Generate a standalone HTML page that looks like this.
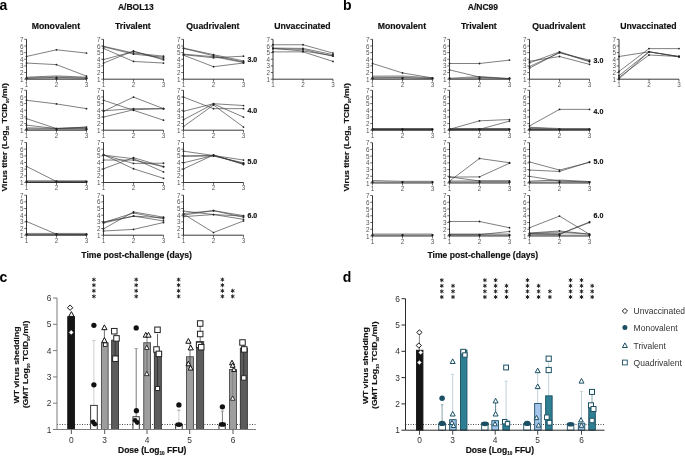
<!DOCTYPE html>
<html><head><meta charset="utf-8"><style>
html,body{margin:0;padding:0;background:#fff;width:685px;height:457px;overflow:hidden}
svg{display:block;will-change:transform}
text{font-family:"Liberation Sans",sans-serif}
</style></head><body>
<svg width="685" height="457" viewBox="0 0 685 457" font-family="Liberation Sans, sans-serif">
<rect width="685" height="457" fill="#fff"/>
<text x="-0.6" y="9.8" font-size="14" font-weight="bold" fill="#000">a</text>
<text x="117.9" y="9.6" font-size="8.5" font-weight="bold" fill="#111" stroke="#111" stroke-width="0.18">A/BOL13</text>
<text x="55.9" y="29.4" font-size="8.7" font-weight="bold" fill="#111" stroke="#111" stroke-width="0.18" text-anchor="middle">Monovalent</text>
<text x="132.9" y="29.4" font-size="8.7" font-weight="bold" fill="#111" stroke="#111" stroke-width="0.18" text-anchor="middle">Trivalent</text>
<text x="212.9" y="29.4" font-size="8.7" font-weight="bold" fill="#111" stroke="#111" stroke-width="0.18" text-anchor="middle">Quadrivalent</text>
<text x="302.4" y="29.4" font-size="8.7" font-weight="bold" fill="#111" stroke="#111" stroke-width="0.18" text-anchor="middle">Unvaccinated</text>
<polygon points="26.5,79.2 26.5,77.2 56.5,75.88 86.5,77.2 86.5,79.2" fill="#c2c2c2"/>
<polyline points="26.5,77.2 56.5,75.88 86.5,77.2" stroke="#333" stroke-width="0.6" fill="none"/>
<circle cx="26.5" cy="78.4" r="1.15" fill="#111"/>
<circle cx="56.5" cy="78.4" r="1.15" fill="#111"/>
<circle cx="86.5" cy="78.4" r="1.15" fill="#111"/>
<polyline points="26.5,56.46 56.5,49.81 86.5,53.07" stroke="#3a3a3a" stroke-width="0.65" fill="none"/>
<circle cx="26.5" cy="56.46" r="0.9" fill="#222"/>
<circle cx="56.5" cy="49.81" r="0.9" fill="#222"/>
<circle cx="86.5" cy="53.07" r="0.9" fill="#222"/>
<polyline points="26.5,63.04 56.5,64.64 86.5,76.14" stroke="#3a3a3a" stroke-width="0.65" fill="none"/>
<circle cx="26.5" cy="63.04" r="0.9" fill="#222"/>
<circle cx="56.5" cy="64.64" r="0.9" fill="#222"/>
<circle cx="86.5" cy="76.14" r="0.9" fill="#222"/>
<polyline points="26.5,78.2 56.5,77.34 86.5,78.2" stroke="#3a3a3a" stroke-width="0.65" fill="none"/>
<circle cx="26.5" cy="78.2" r="0.9" fill="#222"/>
<circle cx="56.5" cy="77.34" r="0.9" fill="#222"/>
<circle cx="86.5" cy="78.2" r="0.9" fill="#222"/>
<path d="M26.5 39.3V79.2H86.5" stroke="#222" stroke-width="0.9" fill="none"/>
<path d="M24.3 79.2H26.5M24.3 72.55H26.5M24.3 65.9H26.5M24.3 59.25H26.5M24.3 52.6H26.5M24.3 45.95H26.5M24.3 39.3H26.5M26.5 79.2V81.6M56.5 79.2V81.6M86.5 79.2V81.6" stroke="#222" stroke-width="0.7" fill="none"/>
<text x="23.5" y="81.75" font-size="6.3" fill="#555" text-anchor="end">1</text>
<text x="23.5" y="75.1" font-size="6.3" fill="#555" text-anchor="end">2</text>
<text x="23.5" y="68.45" font-size="6.3" fill="#555" text-anchor="end">3</text>
<text x="23.5" y="61.8" font-size="6.3" fill="#555" text-anchor="end">4</text>
<text x="23.5" y="55.15" font-size="6.3" fill="#555" text-anchor="end">5</text>
<text x="23.5" y="48.5" font-size="6.3" fill="#555" text-anchor="end">6</text>
<text x="23.5" y="41.85" font-size="6.3" fill="#555" text-anchor="end">7</text>
<text x="26.5" y="86.8" font-size="6.3" fill="#555" text-anchor="middle">1</text>
<text x="56.5" y="86.8" font-size="6.3" fill="#555" text-anchor="middle">2</text>
<text x="86.5" y="86.8" font-size="6.3" fill="#555" text-anchor="middle">3</text>
<polyline points="103.5,46.28 133.5,53.07 163.5,56.19" stroke="#3a3a3a" stroke-width="0.65" fill="none"/>
<circle cx="103.5" cy="46.28" r="0.9" fill="#222"/>
<circle cx="133.5" cy="53.07" r="0.9" fill="#222"/>
<circle cx="163.5" cy="56.19" r="0.9" fill="#222"/>
<polyline points="103.5,46.81 133.5,54.13 163.5,57.25" stroke="#3a3a3a" stroke-width="0.65" fill="none"/>
<circle cx="103.5" cy="46.81" r="0.9" fill="#222"/>
<circle cx="133.5" cy="54.13" r="0.9" fill="#222"/>
<circle cx="163.5" cy="57.25" r="0.9" fill="#222"/>
<polyline points="103.5,48.41 133.5,61.44 163.5,63.04" stroke="#3a3a3a" stroke-width="0.65" fill="none"/>
<circle cx="103.5" cy="48.41" r="0.9" fill="#222"/>
<circle cx="133.5" cy="61.44" r="0.9" fill="#222"/>
<circle cx="163.5" cy="63.04" r="0.9" fill="#222"/>
<polyline points="103.5,59.58 133.5,51.54 163.5,58.85" stroke="#3a3a3a" stroke-width="0.65" fill="none"/>
<circle cx="103.5" cy="59.58" r="0.9" fill="#222"/>
<circle cx="133.5" cy="51.54" r="0.9" fill="#222"/>
<circle cx="163.5" cy="58.85" r="0.9" fill="#222"/>
<polyline points="103.5,63.04 133.5,51 163.5,59.91" stroke="#3a3a3a" stroke-width="0.65" fill="none"/>
<circle cx="103.5" cy="63.04" r="0.9" fill="#222"/>
<circle cx="133.5" cy="51" r="0.9" fill="#222"/>
<circle cx="163.5" cy="59.91" r="0.9" fill="#222"/>
<path d="M103.5 39.3V79.2H163.5" stroke="#222" stroke-width="0.9" fill="none"/>
<path d="M101.3 79.2H103.5M101.3 72.55H103.5M101.3 65.9H103.5M101.3 59.25H103.5M101.3 52.6H103.5M101.3 45.95H103.5M101.3 39.3H103.5M103.5 79.2V81.6M133.5 79.2V81.6M163.5 79.2V81.6" stroke="#222" stroke-width="0.7" fill="none"/>
<text x="100.5" y="81.75" font-size="6.3" fill="#555" text-anchor="end">1</text>
<text x="100.5" y="75.1" font-size="6.3" fill="#555" text-anchor="end">2</text>
<text x="100.5" y="68.45" font-size="6.3" fill="#555" text-anchor="end">3</text>
<text x="100.5" y="61.8" font-size="6.3" fill="#555" text-anchor="end">4</text>
<text x="100.5" y="55.15" font-size="6.3" fill="#555" text-anchor="end">5</text>
<text x="100.5" y="48.5" font-size="6.3" fill="#555" text-anchor="end">6</text>
<text x="100.5" y="41.85" font-size="6.3" fill="#555" text-anchor="end">7</text>
<text x="103.5" y="86.8" font-size="6.3" fill="#555" text-anchor="middle">1</text>
<text x="133.5" y="86.8" font-size="6.3" fill="#555" text-anchor="middle">2</text>
<text x="163.5" y="86.8" font-size="6.3" fill="#555" text-anchor="middle">3</text>
<polyline points="183.5,48.08 213.5,54.66 243.5,60.91" stroke="#3a3a3a" stroke-width="0.65" fill="none"/>
<circle cx="183.5" cy="48.08" r="0.9" fill="#222"/>
<circle cx="213.5" cy="54.66" r="0.9" fill="#222"/>
<circle cx="243.5" cy="60.91" r="0.9" fill="#222"/>
<polyline points="183.5,48.41 213.5,55.73 243.5,61.98" stroke="#3a3a3a" stroke-width="0.65" fill="none"/>
<circle cx="183.5" cy="48.41" r="0.9" fill="#222"/>
<circle cx="213.5" cy="55.73" r="0.9" fill="#222"/>
<circle cx="243.5" cy="61.98" r="0.9" fill="#222"/>
<polyline points="183.5,54.66 213.5,57.79 243.5,56.19" stroke="#3a3a3a" stroke-width="0.65" fill="none"/>
<circle cx="183.5" cy="54.66" r="0.9" fill="#222"/>
<circle cx="213.5" cy="57.79" r="0.9" fill="#222"/>
<circle cx="243.5" cy="56.19" r="0.9" fill="#222"/>
<polyline points="183.5,55.19 213.5,66.7 243.5,63.04" stroke="#3a3a3a" stroke-width="0.65" fill="none"/>
<circle cx="183.5" cy="55.19" r="0.9" fill="#222"/>
<circle cx="213.5" cy="66.7" r="0.9" fill="#222"/>
<circle cx="243.5" cy="63.04" r="0.9" fill="#222"/>
<polyline points="183.5,54.13 213.5,56.72 243.5,62.51" stroke="#3a3a3a" stroke-width="0.65" fill="none"/>
<circle cx="183.5" cy="54.13" r="0.9" fill="#222"/>
<circle cx="213.5" cy="56.72" r="0.9" fill="#222"/>
<circle cx="243.5" cy="62.51" r="0.9" fill="#222"/>
<path d="M183.5 39.3V79.2H243.5" stroke="#222" stroke-width="0.9" fill="none"/>
<path d="M181.3 79.2H183.5M181.3 72.55H183.5M181.3 65.9H183.5M181.3 59.25H183.5M181.3 52.6H183.5M181.3 45.95H183.5M181.3 39.3H183.5M183.5 79.2V81.6M213.5 79.2V81.6M243.5 79.2V81.6" stroke="#222" stroke-width="0.7" fill="none"/>
<text x="180.5" y="81.75" font-size="6.3" fill="#555" text-anchor="end">1</text>
<text x="180.5" y="75.1" font-size="6.3" fill="#555" text-anchor="end">2</text>
<text x="180.5" y="68.45" font-size="6.3" fill="#555" text-anchor="end">3</text>
<text x="180.5" y="61.8" font-size="6.3" fill="#555" text-anchor="end">4</text>
<text x="180.5" y="55.15" font-size="6.3" fill="#555" text-anchor="end">5</text>
<text x="180.5" y="48.5" font-size="6.3" fill="#555" text-anchor="end">6</text>
<text x="180.5" y="41.85" font-size="6.3" fill="#555" text-anchor="end">7</text>
<text x="183.5" y="86.8" font-size="6.3" fill="#555" text-anchor="middle">1</text>
<text x="213.5" y="86.8" font-size="6.3" fill="#555" text-anchor="middle">2</text>
<text x="243.5" y="86.8" font-size="6.3" fill="#555" text-anchor="middle">3</text>
<polyline points="273,44.75 303,44.75 333,53.07" stroke="#3a3a3a" stroke-width="0.65" fill="none"/>
<circle cx="273" cy="44.75" r="0.9" fill="#222"/>
<circle cx="303" cy="44.75" r="0.9" fill="#222"/>
<circle cx="333" cy="53.07" r="0.9" fill="#222"/>
<polyline points="273,48.08 303,48.41 333,54.66" stroke="#3a3a3a" stroke-width="0.65" fill="none"/>
<circle cx="273" cy="48.08" r="0.9" fill="#222"/>
<circle cx="303" cy="48.41" r="0.9" fill="#222"/>
<circle cx="333" cy="54.66" r="0.9" fill="#222"/>
<polyline points="273,48.68 303,49.41 333,56.19" stroke="#3a3a3a" stroke-width="0.65" fill="none"/>
<circle cx="273" cy="48.68" r="0.9" fill="#222"/>
<circle cx="303" cy="49.41" r="0.9" fill="#222"/>
<circle cx="333" cy="56.19" r="0.9" fill="#222"/>
<polyline points="273,51.87 303,51.87 333,61.44" stroke="#3a3a3a" stroke-width="0.65" fill="none"/>
<circle cx="273" cy="51.87" r="0.9" fill="#222"/>
<circle cx="303" cy="51.87" r="0.9" fill="#222"/>
<circle cx="333" cy="61.44" r="0.9" fill="#222"/>
<polyline points="273,48.41 303,51 333,55.73" stroke="#3a3a3a" stroke-width="0.65" fill="none"/>
<circle cx="273" cy="48.41" r="0.9" fill="#222"/>
<circle cx="303" cy="51" r="0.9" fill="#222"/>
<circle cx="333" cy="55.73" r="0.9" fill="#222"/>
<path d="M273 39.3V79.2H333" stroke="#222" stroke-width="0.9" fill="none"/>
<path d="M270.8 79.2H273M270.8 72.55H273M270.8 65.9H273M270.8 59.25H273M270.8 52.6H273M270.8 45.95H273M270.8 39.3H273M273 79.2V81.6M303 79.2V81.6M333 79.2V81.6" stroke="#222" stroke-width="0.7" fill="none"/>
<text x="270" y="81.75" font-size="6.3" fill="#555" text-anchor="end">1</text>
<text x="270" y="75.1" font-size="6.3" fill="#555" text-anchor="end">2</text>
<text x="270" y="68.45" font-size="6.3" fill="#555" text-anchor="end">3</text>
<text x="270" y="61.8" font-size="6.3" fill="#555" text-anchor="end">4</text>
<text x="270" y="55.15" font-size="6.3" fill="#555" text-anchor="end">5</text>
<text x="270" y="48.5" font-size="6.3" fill="#555" text-anchor="end">6</text>
<text x="270" y="41.85" font-size="6.3" fill="#555" text-anchor="end">7</text>
<text x="273" y="86.8" font-size="6.3" fill="#555" text-anchor="middle">1</text>
<text x="303" y="86.8" font-size="6.3" fill="#555" text-anchor="middle">2</text>
<text x="333" y="86.8" font-size="6.3" fill="#555" text-anchor="middle">3</text>
<text x="247.5" y="62.4" font-size="7" font-weight="bold" fill="#111" stroke="#111" stroke-width="0.18">3.0</text>
<polygon points="26.5,130.2 26.5,127.87 56.5,128.34 86.5,127.21 86.5,130.2" fill="#b4b4b4"/>
<polyline points="26.5,127.87 56.5,128.34 86.5,127.21" stroke="#333" stroke-width="0.6" fill="none"/>
<circle cx="26.5" cy="129.4" r="1.15" fill="#111"/>
<circle cx="56.5" cy="129.4" r="1.15" fill="#111"/>
<circle cx="86.5" cy="129.4" r="1.15" fill="#111"/>
<polyline points="26.5,100.27 56.5,103.93 86.5,108.65" stroke="#3a3a3a" stroke-width="0.65" fill="none"/>
<circle cx="26.5" cy="100.27" r="0.9" fill="#222"/>
<circle cx="56.5" cy="103.93" r="0.9" fill="#222"/>
<circle cx="86.5" cy="108.65" r="0.9" fill="#222"/>
<polyline points="26.5,118.63 56.5,128.6 86.5,128.6" stroke="#3a3a3a" stroke-width="0.65" fill="none"/>
<circle cx="26.5" cy="118.63" r="0.9" fill="#222"/>
<circle cx="56.5" cy="128.6" r="0.9" fill="#222"/>
<circle cx="86.5" cy="128.6" r="0.9" fill="#222"/>
<polyline points="26.5,125.15 56.5,128.6 86.5,127.07" stroke="#3a3a3a" stroke-width="0.65" fill="none"/>
<circle cx="26.5" cy="125.15" r="0.9" fill="#222"/>
<circle cx="56.5" cy="128.6" r="0.9" fill="#222"/>
<circle cx="86.5" cy="127.07" r="0.9" fill="#222"/>
<path d="M26.5 90.3V130.2H86.5" stroke="#222" stroke-width="0.9" fill="none"/>
<path d="M24.3 130.2H26.5M24.3 123.55H26.5M24.3 116.9H26.5M24.3 110.25H26.5M24.3 103.6H26.5M24.3 96.95H26.5M24.3 90.3H26.5M26.5 130.2V132.6M56.5 130.2V132.6M86.5 130.2V132.6" stroke="#222" stroke-width="0.7" fill="none"/>
<text x="23.5" y="132.75" font-size="6.3" fill="#555" text-anchor="end">1</text>
<text x="23.5" y="126.1" font-size="6.3" fill="#555" text-anchor="end">2</text>
<text x="23.5" y="119.45" font-size="6.3" fill="#555" text-anchor="end">3</text>
<text x="23.5" y="112.8" font-size="6.3" fill="#555" text-anchor="end">4</text>
<text x="23.5" y="106.15" font-size="6.3" fill="#555" text-anchor="end">5</text>
<text x="23.5" y="99.5" font-size="6.3" fill="#555" text-anchor="end">6</text>
<text x="23.5" y="92.85" font-size="6.3" fill="#555" text-anchor="end">7</text>
<text x="26.5" y="137.8" font-size="6.3" fill="#555" text-anchor="middle">1</text>
<text x="56.5" y="137.8" font-size="6.3" fill="#555" text-anchor="middle">2</text>
<text x="86.5" y="137.8" font-size="6.3" fill="#555" text-anchor="middle">3</text>
<polyline points="103.5,100.27 133.5,110.25 163.5,120.22" stroke="#3a3a3a" stroke-width="0.65" fill="none"/>
<circle cx="103.5" cy="100.27" r="0.9" fill="#222"/>
<circle cx="133.5" cy="110.25" r="0.9" fill="#222"/>
<circle cx="163.5" cy="120.22" r="0.9" fill="#222"/>
<polyline points="103.5,111.31 133.5,97.08 163.5,108.65" stroke="#3a3a3a" stroke-width="0.65" fill="none"/>
<circle cx="103.5" cy="111.31" r="0.9" fill="#222"/>
<circle cx="133.5" cy="97.08" r="0.9" fill="#222"/>
<circle cx="163.5" cy="108.65" r="0.9" fill="#222"/>
<polyline points="103.5,110.78 133.5,108.65 163.5,108.65" stroke="#3a3a3a" stroke-width="0.65" fill="none"/>
<circle cx="103.5" cy="110.78" r="0.9" fill="#222"/>
<circle cx="133.5" cy="108.65" r="0.9" fill="#222"/>
<circle cx="163.5" cy="108.65" r="0.9" fill="#222"/>
<polyline points="103.5,117.1 133.5,109.72 163.5,108.65" stroke="#3a3a3a" stroke-width="0.65" fill="none"/>
<circle cx="103.5" cy="117.1" r="0.9" fill="#222"/>
<circle cx="133.5" cy="109.72" r="0.9" fill="#222"/>
<circle cx="163.5" cy="108.65" r="0.9" fill="#222"/>
<path d="M103.5 90.3V130.2H163.5" stroke="#222" stroke-width="0.9" fill="none"/>
<path d="M101.3 130.2H103.5M101.3 123.55H103.5M101.3 116.9H103.5M101.3 110.25H103.5M101.3 103.6H103.5M101.3 96.95H103.5M101.3 90.3H103.5M103.5 130.2V132.6M133.5 130.2V132.6M163.5 130.2V132.6" stroke="#222" stroke-width="0.7" fill="none"/>
<text x="100.5" y="132.75" font-size="6.3" fill="#555" text-anchor="end">1</text>
<text x="100.5" y="126.1" font-size="6.3" fill="#555" text-anchor="end">2</text>
<text x="100.5" y="119.45" font-size="6.3" fill="#555" text-anchor="end">3</text>
<text x="100.5" y="112.8" font-size="6.3" fill="#555" text-anchor="end">4</text>
<text x="100.5" y="106.15" font-size="6.3" fill="#555" text-anchor="end">5</text>
<text x="100.5" y="99.5" font-size="6.3" fill="#555" text-anchor="end">6</text>
<text x="100.5" y="92.85" font-size="6.3" fill="#555" text-anchor="end">7</text>
<text x="103.5" y="137.8" font-size="6.3" fill="#555" text-anchor="middle">1</text>
<text x="133.5" y="137.8" font-size="6.3" fill="#555" text-anchor="middle">2</text>
<text x="163.5" y="137.8" font-size="6.3" fill="#555" text-anchor="middle">3</text>
<polyline points="183.5,97.08 213.5,108.65 243.5,108.65" stroke="#3a3a3a" stroke-width="0.65" fill="none"/>
<circle cx="183.5" cy="97.08" r="0.9" fill="#222"/>
<circle cx="213.5" cy="108.65" r="0.9" fill="#222"/>
<circle cx="243.5" cy="108.65" r="0.9" fill="#222"/>
<polyline points="183.5,111.31 213.5,103.73 243.5,105.53" stroke="#3a3a3a" stroke-width="0.65" fill="none"/>
<circle cx="183.5" cy="111.31" r="0.9" fill="#222"/>
<circle cx="213.5" cy="103.73" r="0.9" fill="#222"/>
<circle cx="243.5" cy="105.53" r="0.9" fill="#222"/>
<polyline points="183.5,119.69 213.5,103.93 243.5,117.1" stroke="#3a3a3a" stroke-width="0.65" fill="none"/>
<circle cx="183.5" cy="119.69" r="0.9" fill="#222"/>
<circle cx="213.5" cy="103.93" r="0.9" fill="#222"/>
<circle cx="243.5" cy="117.1" r="0.9" fill="#222"/>
<polyline points="183.5,126.54 213.5,105 243.5,127.07" stroke="#3a3a3a" stroke-width="0.65" fill="none"/>
<circle cx="183.5" cy="126.54" r="0.9" fill="#222"/>
<circle cx="213.5" cy="105" r="0.9" fill="#222"/>
<circle cx="243.5" cy="127.07" r="0.9" fill="#222"/>
<path d="M183.5 90.3V130.2H243.5" stroke="#222" stroke-width="0.9" fill="none"/>
<path d="M181.3 130.2H183.5M181.3 123.55H183.5M181.3 116.9H183.5M181.3 110.25H183.5M181.3 103.6H183.5M181.3 96.95H183.5M181.3 90.3H183.5M183.5 130.2V132.6M213.5 130.2V132.6M243.5 130.2V132.6" stroke="#222" stroke-width="0.7" fill="none"/>
<text x="180.5" y="132.75" font-size="6.3" fill="#555" text-anchor="end">1</text>
<text x="180.5" y="126.1" font-size="6.3" fill="#555" text-anchor="end">2</text>
<text x="180.5" y="119.45" font-size="6.3" fill="#555" text-anchor="end">3</text>
<text x="180.5" y="112.8" font-size="6.3" fill="#555" text-anchor="end">4</text>
<text x="180.5" y="106.15" font-size="6.3" fill="#555" text-anchor="end">5</text>
<text x="180.5" y="99.5" font-size="6.3" fill="#555" text-anchor="end">6</text>
<text x="180.5" y="92.85" font-size="6.3" fill="#555" text-anchor="end">7</text>
<text x="183.5" y="137.8" font-size="6.3" fill="#555" text-anchor="middle">1</text>
<text x="213.5" y="137.8" font-size="6.3" fill="#555" text-anchor="middle">2</text>
<text x="243.5" y="137.8" font-size="6.3" fill="#555" text-anchor="middle">3</text>
<text x="247.5" y="113.3" font-size="7" font-weight="bold" fill="#111" stroke="#111" stroke-width="0.18">4.0</text>
<polygon points="26.5,182.5 26.5,180.7 56.5,180.7 86.5,180.7 86.5,182.5" fill="#7a7a7a"/>
<polyline points="26.5,180.7 56.5,180.7 86.5,180.7" stroke="#666" stroke-width="0.6" fill="none"/>
<circle cx="26.5" cy="181.7" r="1.15" fill="#111"/>
<circle cx="56.5" cy="181.7" r="1.15" fill="#111"/>
<circle cx="86.5" cy="181.7" r="1.15" fill="#111"/>
<polyline points="26.5,166.43 56.5,181.5 86.5,181.83" stroke="#3a3a3a" stroke-width="0.65" fill="none"/>
<circle cx="26.5" cy="166.43" r="0.9" fill="#222"/>
<circle cx="56.5" cy="181.5" r="0.9" fill="#222"/>
<circle cx="86.5" cy="181.83" r="0.9" fill="#222"/>
<path d="M26.5 142.5V182.5H86.5" stroke="#222" stroke-width="0.9" fill="none"/>
<path d="M24.3 182.5H26.5M24.3 175.83H26.5M24.3 169.17H26.5M24.3 162.5H26.5M24.3 155.83H26.5M24.3 149.17H26.5M24.3 142.5H26.5M26.5 182.5V184.9M56.5 182.5V184.9M86.5 182.5V184.9" stroke="#222" stroke-width="0.7" fill="none"/>
<text x="23.5" y="185.05" font-size="6.3" fill="#555" text-anchor="end">1</text>
<text x="23.5" y="178.38" font-size="6.3" fill="#555" text-anchor="end">2</text>
<text x="23.5" y="171.72" font-size="6.3" fill="#555" text-anchor="end">3</text>
<text x="23.5" y="165.05" font-size="6.3" fill="#555" text-anchor="end">4</text>
<text x="23.5" y="158.38" font-size="6.3" fill="#555" text-anchor="end">5</text>
<text x="23.5" y="151.72" font-size="6.3" fill="#555" text-anchor="end">6</text>
<text x="23.5" y="145.05" font-size="6.3" fill="#555" text-anchor="end">7</text>
<text x="26.5" y="190.1" font-size="6.3" fill="#555" text-anchor="middle">1</text>
<text x="56.5" y="190.1" font-size="6.3" fill="#555" text-anchor="middle">2</text>
<text x="86.5" y="190.1" font-size="6.3" fill="#555" text-anchor="middle">3</text>
<polyline points="103.5,154.97 133.5,163.43 163.5,163.23" stroke="#3a3a3a" stroke-width="0.65" fill="none"/>
<circle cx="103.5" cy="154.97" r="0.9" fill="#222"/>
<circle cx="133.5" cy="163.43" r="0.9" fill="#222"/>
<circle cx="163.5" cy="163.23" r="0.9" fill="#222"/>
<polyline points="103.5,154.77 133.5,168.77 163.5,178.3" stroke="#3a3a3a" stroke-width="0.65" fill="none"/>
<circle cx="103.5" cy="154.77" r="0.9" fill="#222"/>
<circle cx="133.5" cy="168.77" r="0.9" fill="#222"/>
<circle cx="163.5" cy="178.3" r="0.9" fill="#222"/>
<polyline points="103.5,155.17 133.5,158.7 163.5,171.9" stroke="#3a3a3a" stroke-width="0.65" fill="none"/>
<circle cx="103.5" cy="155.17" r="0.9" fill="#222"/>
<circle cx="133.5" cy="158.7" r="0.9" fill="#222"/>
<circle cx="163.5" cy="171.9" r="0.9" fill="#222"/>
<polyline points="103.5,160.03 133.5,160.03 163.5,166.63" stroke="#3a3a3a" stroke-width="0.65" fill="none"/>
<circle cx="103.5" cy="160.03" r="0.9" fill="#222"/>
<circle cx="133.5" cy="160.03" r="0.9" fill="#222"/>
<circle cx="163.5" cy="166.63" r="0.9" fill="#222"/>
<polyline points="103.5,168.77 133.5,157.63 163.5,166.63" stroke="#3a3a3a" stroke-width="0.65" fill="none"/>
<circle cx="103.5" cy="168.77" r="0.9" fill="#222"/>
<circle cx="133.5" cy="157.63" r="0.9" fill="#222"/>
<circle cx="163.5" cy="166.63" r="0.9" fill="#222"/>
<path d="M103.5 142.5V182.5H163.5" stroke="#222" stroke-width="0.9" fill="none"/>
<path d="M101.3 182.5H103.5M101.3 175.83H103.5M101.3 169.17H103.5M101.3 162.5H103.5M101.3 155.83H103.5M101.3 149.17H103.5M101.3 142.5H103.5M103.5 182.5V184.9M133.5 182.5V184.9M163.5 182.5V184.9" stroke="#222" stroke-width="0.7" fill="none"/>
<text x="100.5" y="185.05" font-size="6.3" fill="#555" text-anchor="end">1</text>
<text x="100.5" y="178.38" font-size="6.3" fill="#555" text-anchor="end">2</text>
<text x="100.5" y="171.72" font-size="6.3" fill="#555" text-anchor="end">3</text>
<text x="100.5" y="165.05" font-size="6.3" fill="#555" text-anchor="end">4</text>
<text x="100.5" y="158.38" font-size="6.3" fill="#555" text-anchor="end">5</text>
<text x="100.5" y="151.72" font-size="6.3" fill="#555" text-anchor="end">6</text>
<text x="100.5" y="145.05" font-size="6.3" fill="#555" text-anchor="end">7</text>
<text x="103.5" y="190.1" font-size="6.3" fill="#555" text-anchor="middle">1</text>
<text x="133.5" y="190.1" font-size="6.3" fill="#555" text-anchor="middle">2</text>
<text x="163.5" y="190.1" font-size="6.3" fill="#555" text-anchor="middle">3</text>
<polyline points="183.5,151.17 213.5,155.5 243.5,160.03" stroke="#3a3a3a" stroke-width="0.65" fill="none"/>
<circle cx="183.5" cy="151.17" r="0.9" fill="#222"/>
<circle cx="213.5" cy="155.5" r="0.9" fill="#222"/>
<circle cx="243.5" cy="160.03" r="0.9" fill="#222"/>
<polyline points="183.5,156.1 213.5,156.03 243.5,162.9" stroke="#3a3a3a" stroke-width="0.65" fill="none"/>
<circle cx="183.5" cy="156.1" r="0.9" fill="#222"/>
<circle cx="213.5" cy="156.03" r="0.9" fill="#222"/>
<circle cx="243.5" cy="162.9" r="0.9" fill="#222"/>
<polyline points="183.5,162.77 213.5,155.5 243.5,163.97" stroke="#3a3a3a" stroke-width="0.65" fill="none"/>
<circle cx="183.5" cy="162.77" r="0.9" fill="#222"/>
<circle cx="213.5" cy="155.5" r="0.9" fill="#222"/>
<circle cx="243.5" cy="163.97" r="0.9" fill="#222"/>
<polyline points="183.5,168.9 213.5,154.97 243.5,164.5" stroke="#3a3a3a" stroke-width="0.65" fill="none"/>
<circle cx="183.5" cy="168.9" r="0.9" fill="#222"/>
<circle cx="213.5" cy="154.97" r="0.9" fill="#222"/>
<circle cx="243.5" cy="164.5" r="0.9" fill="#222"/>
<polyline points="183.5,156.1 213.5,155.43 243.5,163.43" stroke="#3a3a3a" stroke-width="0.65" fill="none"/>
<circle cx="183.5" cy="156.1" r="0.9" fill="#222"/>
<circle cx="213.5" cy="155.43" r="0.9" fill="#222"/>
<circle cx="243.5" cy="163.43" r="0.9" fill="#222"/>
<path d="M183.5 142.5V182.5H243.5" stroke="#222" stroke-width="0.9" fill="none"/>
<path d="M181.3 182.5H183.5M181.3 175.83H183.5M181.3 169.17H183.5M181.3 162.5H183.5M181.3 155.83H183.5M181.3 149.17H183.5M181.3 142.5H183.5M183.5 182.5V184.9M213.5 182.5V184.9M243.5 182.5V184.9" stroke="#222" stroke-width="0.7" fill="none"/>
<text x="180.5" y="185.05" font-size="6.3" fill="#555" text-anchor="end">1</text>
<text x="180.5" y="178.38" font-size="6.3" fill="#555" text-anchor="end">2</text>
<text x="180.5" y="171.72" font-size="6.3" fill="#555" text-anchor="end">3</text>
<text x="180.5" y="165.05" font-size="6.3" fill="#555" text-anchor="end">4</text>
<text x="180.5" y="158.38" font-size="6.3" fill="#555" text-anchor="end">5</text>
<text x="180.5" y="151.72" font-size="6.3" fill="#555" text-anchor="end">6</text>
<text x="180.5" y="145.05" font-size="6.3" fill="#555" text-anchor="end">7</text>
<text x="183.5" y="190.1" font-size="6.3" fill="#555" text-anchor="middle">1</text>
<text x="213.5" y="190.1" font-size="6.3" fill="#555" text-anchor="middle">2</text>
<text x="243.5" y="190.1" font-size="6.3" fill="#555" text-anchor="middle">3</text>
<text x="247.5" y="163.9" font-size="7" font-weight="bold" fill="#111" stroke="#111" stroke-width="0.18">5.0</text>
<polygon points="26.5,235.2 26.5,233.4 56.5,233.4 86.5,233.4 86.5,235.2" fill="#7a7a7a"/>
<polyline points="26.5,233.4 56.5,233.4 86.5,233.4" stroke="#666" stroke-width="0.6" fill="none"/>
<circle cx="26.5" cy="234.4" r="1.15" fill="#111"/>
<circle cx="56.5" cy="234.4" r="1.15" fill="#111"/>
<circle cx="86.5" cy="234.4" r="1.15" fill="#111"/>
<polyline points="26.5,221.47 56.5,234.2 86.5,234.53" stroke="#3a3a3a" stroke-width="0.65" fill="none"/>
<circle cx="26.5" cy="221.47" r="0.9" fill="#222"/>
<circle cx="56.5" cy="234.2" r="0.9" fill="#222"/>
<circle cx="86.5" cy="234.53" r="0.9" fill="#222"/>
<path d="M26.5 195.2V235.2H86.5" stroke="#222" stroke-width="0.9" fill="none"/>
<path d="M24.3 235.2H26.5M24.3 228.53H26.5M24.3 221.87H26.5M24.3 215.2H26.5M24.3 208.53H26.5M24.3 201.87H26.5M24.3 195.2H26.5M26.5 235.2V237.6M56.5 235.2V237.6M86.5 235.2V237.6" stroke="#222" stroke-width="0.7" fill="none"/>
<text x="23.5" y="237.75" font-size="6.3" fill="#555" text-anchor="end">1</text>
<text x="23.5" y="231.08" font-size="6.3" fill="#555" text-anchor="end">2</text>
<text x="23.5" y="224.42" font-size="6.3" fill="#555" text-anchor="end">3</text>
<text x="23.5" y="217.75" font-size="6.3" fill="#555" text-anchor="end">4</text>
<text x="23.5" y="211.08" font-size="6.3" fill="#555" text-anchor="end">5</text>
<text x="23.5" y="204.42" font-size="6.3" fill="#555" text-anchor="end">6</text>
<text x="23.5" y="197.75" font-size="6.3" fill="#555" text-anchor="end">7</text>
<text x="26.5" y="242.8" font-size="6.3" fill="#555" text-anchor="middle">1</text>
<text x="56.5" y="242.8" font-size="6.3" fill="#555" text-anchor="middle">2</text>
<text x="86.5" y="242.8" font-size="6.3" fill="#555" text-anchor="middle">3</text>
<polyline points="103.5,222 133.5,216.13 163.5,217.73" stroke="#3a3a3a" stroke-width="0.65" fill="none"/>
<circle cx="103.5" cy="222" r="0.9" fill="#222"/>
<circle cx="133.5" cy="216.13" r="0.9" fill="#222"/>
<circle cx="163.5" cy="217.73" r="0.9" fill="#222"/>
<polyline points="103.5,223 133.5,216.13 163.5,220.93" stroke="#3a3a3a" stroke-width="0.65" fill="none"/>
<circle cx="103.5" cy="223" r="0.9" fill="#222"/>
<circle cx="133.5" cy="216.13" r="0.9" fill="#222"/>
<circle cx="163.5" cy="220.93" r="0.9" fill="#222"/>
<polyline points="103.5,228.87 133.5,211.93 163.5,217.2" stroke="#3a3a3a" stroke-width="0.65" fill="none"/>
<circle cx="103.5" cy="228.87" r="0.9" fill="#222"/>
<circle cx="133.5" cy="211.93" r="0.9" fill="#222"/>
<circle cx="163.5" cy="217.2" r="0.9" fill="#222"/>
<polyline points="103.5,231 133.5,229.4 163.5,222.53" stroke="#3a3a3a" stroke-width="0.65" fill="none"/>
<circle cx="103.5" cy="231" r="0.9" fill="#222"/>
<circle cx="133.5" cy="229.4" r="0.9" fill="#222"/>
<circle cx="163.5" cy="222.53" r="0.9" fill="#222"/>
<polyline points="103.5,222.53 133.5,213 163.5,218.8" stroke="#3a3a3a" stroke-width="0.65" fill="none"/>
<circle cx="103.5" cy="222.53" r="0.9" fill="#222"/>
<circle cx="133.5" cy="213" r="0.9" fill="#222"/>
<circle cx="163.5" cy="218.8" r="0.9" fill="#222"/>
<path d="M103.5 195.2V235.2H163.5" stroke="#222" stroke-width="0.9" fill="none"/>
<path d="M101.3 235.2H103.5M101.3 228.53H103.5M101.3 221.87H103.5M101.3 215.2H103.5M101.3 208.53H103.5M101.3 201.87H103.5M101.3 195.2H103.5M103.5 235.2V237.6M133.5 235.2V237.6M163.5 235.2V237.6" stroke="#222" stroke-width="0.7" fill="none"/>
<text x="100.5" y="237.75" font-size="6.3" fill="#555" text-anchor="end">1</text>
<text x="100.5" y="231.08" font-size="6.3" fill="#555" text-anchor="end">2</text>
<text x="100.5" y="224.42" font-size="6.3" fill="#555" text-anchor="end">3</text>
<text x="100.5" y="217.75" font-size="6.3" fill="#555" text-anchor="end">4</text>
<text x="100.5" y="211.08" font-size="6.3" fill="#555" text-anchor="end">5</text>
<text x="100.5" y="204.42" font-size="6.3" fill="#555" text-anchor="end">6</text>
<text x="100.5" y="197.75" font-size="6.3" fill="#555" text-anchor="end">7</text>
<text x="103.5" y="242.8" font-size="6.3" fill="#555" text-anchor="middle">1</text>
<text x="133.5" y="242.8" font-size="6.3" fill="#555" text-anchor="middle">2</text>
<text x="163.5" y="242.8" font-size="6.3" fill="#555" text-anchor="middle">3</text>
<polyline points="183.5,211.07 213.5,214.53 243.5,216.13" stroke="#3a3a3a" stroke-width="0.65" fill="none"/>
<circle cx="183.5" cy="211.07" r="0.9" fill="#222"/>
<circle cx="213.5" cy="214.53" r="0.9" fill="#222"/>
<circle cx="243.5" cy="216.13" r="0.9" fill="#222"/>
<polyline points="183.5,213.53 213.5,210.67 243.5,215.6" stroke="#3a3a3a" stroke-width="0.65" fill="none"/>
<circle cx="183.5" cy="213.53" r="0.9" fill="#222"/>
<circle cx="213.5" cy="210.67" r="0.9" fill="#222"/>
<circle cx="243.5" cy="215.6" r="0.9" fill="#222"/>
<polyline points="183.5,215.07 213.5,210.67 243.5,217.2" stroke="#3a3a3a" stroke-width="0.65" fill="none"/>
<circle cx="183.5" cy="215.07" r="0.9" fill="#222"/>
<circle cx="213.5" cy="210.67" r="0.9" fill="#222"/>
<circle cx="243.5" cy="217.2" r="0.9" fill="#222"/>
<polyline points="183.5,216.67 213.5,214.53 243.5,219.33" stroke="#3a3a3a" stroke-width="0.65" fill="none"/>
<circle cx="183.5" cy="216.67" r="0.9" fill="#222"/>
<circle cx="213.5" cy="214.53" r="0.9" fill="#222"/>
<circle cx="243.5" cy="219.33" r="0.9" fill="#222"/>
<polyline points="183.5,214.07 213.5,232.53 243.5,220.93" stroke="#3a3a3a" stroke-width="0.65" fill="none"/>
<circle cx="183.5" cy="214.07" r="0.9" fill="#222"/>
<circle cx="213.5" cy="232.53" r="0.9" fill="#222"/>
<circle cx="243.5" cy="220.93" r="0.9" fill="#222"/>
<path d="M183.5 195.2V235.2H243.5" stroke="#222" stroke-width="0.9" fill="none"/>
<path d="M181.3 235.2H183.5M181.3 228.53H183.5M181.3 221.87H183.5M181.3 215.2H183.5M181.3 208.53H183.5M181.3 201.87H183.5M181.3 195.2H183.5M183.5 235.2V237.6M213.5 235.2V237.6M243.5 235.2V237.6" stroke="#222" stroke-width="0.7" fill="none"/>
<text x="180.5" y="237.75" font-size="6.3" fill="#555" text-anchor="end">1</text>
<text x="180.5" y="231.08" font-size="6.3" fill="#555" text-anchor="end">2</text>
<text x="180.5" y="224.42" font-size="6.3" fill="#555" text-anchor="end">3</text>
<text x="180.5" y="217.75" font-size="6.3" fill="#555" text-anchor="end">4</text>
<text x="180.5" y="211.08" font-size="6.3" fill="#555" text-anchor="end">5</text>
<text x="180.5" y="204.42" font-size="6.3" fill="#555" text-anchor="end">6</text>
<text x="180.5" y="197.75" font-size="6.3" fill="#555" text-anchor="end">7</text>
<text x="183.5" y="242.8" font-size="6.3" fill="#555" text-anchor="middle">1</text>
<text x="213.5" y="242.8" font-size="6.3" fill="#555" text-anchor="middle">2</text>
<text x="243.5" y="242.8" font-size="6.3" fill="#555" text-anchor="middle">3</text>
<text x="247.5" y="217.8" font-size="7" font-weight="bold" fill="#111" stroke="#111" stroke-width="0.18">6.0</text>
<text transform="translate(6.8 191.5) rotate(-90) scale(1 0.9)" font-size="8.6" font-weight="bold" fill="#111" stroke="#111" stroke-width="0.18">Virus titer (Log<tspan font-size="4.4" dy="2.0">10</tspan><tspan dy="-2.0"> TCID</tspan><tspan font-size="4.4" dy="2.0">50</tspan><tspan dy="-2.0">/ml)</tspan></text>
<text x="81.3" y="257.6" font-size="8.6" font-weight="bold" fill="#111" stroke="#111" stroke-width="0.18">Time post-challenge (days)</text>
<text x="343" y="9.8" font-size="14" font-weight="bold" fill="#000">b</text>
<text x="467.8" y="9.6" font-size="8.5" font-weight="bold" fill="#111" stroke="#111" stroke-width="0.18">A/NC99</text>
<text x="401.9" y="29.4" font-size="8.7" font-weight="bold" fill="#111" stroke="#111" stroke-width="0.18" text-anchor="middle">Monovalent</text>
<text x="478.9" y="29.4" font-size="8.7" font-weight="bold" fill="#111" stroke="#111" stroke-width="0.18" text-anchor="middle">Trivalent</text>
<text x="558.9" y="29.4" font-size="8.7" font-weight="bold" fill="#111" stroke="#111" stroke-width="0.18" text-anchor="middle">Quadrivalent</text>
<text x="648.4" y="29.4" font-size="8.7" font-weight="bold" fill="#111" stroke="#111" stroke-width="0.18" text-anchor="middle">Unvaccinated</text>
<polygon points="372.5,79.2 372.5,76.07 402.5,75.88 432.5,77.87 432.5,79.2" fill="#c0c0c0"/>
<polyline points="372.5,76.07 402.5,75.88 432.5,77.87" stroke="#555" stroke-width="0.6" fill="none"/>
<circle cx="372.5" cy="78.4" r="1.15" fill="#111"/>
<circle cx="402.5" cy="78.4" r="1.15" fill="#111"/>
<circle cx="432.5" cy="78.4" r="1.15" fill="#111"/>
<polyline points="372.5,63.51 402.5,72.95 432.5,77.94" stroke="#3a3a3a" stroke-width="0.65" fill="none"/>
<circle cx="372.5" cy="63.51" r="0.9" fill="#222"/>
<circle cx="402.5" cy="72.95" r="0.9" fill="#222"/>
<circle cx="432.5" cy="77.94" r="0.9" fill="#222"/>
<polyline points="372.5,77.87 402.5,77.54 432.5,78.53" stroke="#3a3a3a" stroke-width="0.65" fill="none"/>
<circle cx="372.5" cy="77.87" r="0.9" fill="#222"/>
<circle cx="402.5" cy="77.54" r="0.9" fill="#222"/>
<circle cx="432.5" cy="78.53" r="0.9" fill="#222"/>
<path d="M372.5 39.3V79.2H432.5" stroke="#222" stroke-width="0.9" fill="none"/>
<path d="M370.3 79.2H372.5M370.3 72.55H372.5M370.3 65.9H372.5M370.3 59.25H372.5M370.3 52.6H372.5M370.3 45.95H372.5M370.3 39.3H372.5M372.5 79.2V81.6M402.5 79.2V81.6M432.5 79.2V81.6" stroke="#222" stroke-width="0.7" fill="none"/>
<text x="369.5" y="81.75" font-size="6.3" fill="#555" text-anchor="end">1</text>
<text x="369.5" y="75.1" font-size="6.3" fill="#555" text-anchor="end">2</text>
<text x="369.5" y="68.45" font-size="6.3" fill="#555" text-anchor="end">3</text>
<text x="369.5" y="61.8" font-size="6.3" fill="#555" text-anchor="end">4</text>
<text x="369.5" y="55.15" font-size="6.3" fill="#555" text-anchor="end">5</text>
<text x="369.5" y="48.5" font-size="6.3" fill="#555" text-anchor="end">6</text>
<text x="369.5" y="41.85" font-size="6.3" fill="#555" text-anchor="end">7</text>
<text x="372.5" y="86.8" font-size="6.3" fill="#555" text-anchor="middle">1</text>
<text x="402.5" y="86.8" font-size="6.3" fill="#555" text-anchor="middle">2</text>
<text x="432.5" y="86.8" font-size="6.3" fill="#555" text-anchor="middle">3</text>
<polygon points="449.5,79.2 449.5,78.2 479.5,76.54 509.5,78.53 509.5,79.2" fill="#a8a8a8"/>
<polyline points="449.5,78.2 479.5,76.54 509.5,78.53" stroke="#555" stroke-width="0.6" fill="none"/>
<circle cx="449.5" cy="78.4" r="1.15" fill="#111"/>
<circle cx="479.5" cy="78.4" r="1.15" fill="#111"/>
<circle cx="509.5" cy="78.4" r="1.15" fill="#111"/>
<polyline points="449.5,63.51 479.5,63.51 509.5,60.11" stroke="#3a3a3a" stroke-width="0.65" fill="none"/>
<circle cx="449.5" cy="63.51" r="0.9" fill="#222"/>
<circle cx="479.5" cy="63.51" r="0.9" fill="#222"/>
<circle cx="509.5" cy="60.11" r="0.9" fill="#222"/>
<polyline points="449.5,69.89 479.5,77.07 509.5,78.67" stroke="#3a3a3a" stroke-width="0.65" fill="none"/>
<circle cx="449.5" cy="69.89" r="0.9" fill="#222"/>
<circle cx="479.5" cy="77.07" r="0.9" fill="#222"/>
<circle cx="509.5" cy="78.67" r="0.9" fill="#222"/>
<path d="M449.5 39.3V79.2H509.5" stroke="#222" stroke-width="0.9" fill="none"/>
<path d="M447.3 79.2H449.5M447.3 72.55H449.5M447.3 65.9H449.5M447.3 59.25H449.5M447.3 52.6H449.5M447.3 45.95H449.5M447.3 39.3H449.5M449.5 79.2V81.6M479.5 79.2V81.6M509.5 79.2V81.6" stroke="#222" stroke-width="0.7" fill="none"/>
<text x="446.5" y="81.75" font-size="6.3" fill="#555" text-anchor="end">1</text>
<text x="446.5" y="75.1" font-size="6.3" fill="#555" text-anchor="end">2</text>
<text x="446.5" y="68.45" font-size="6.3" fill="#555" text-anchor="end">3</text>
<text x="446.5" y="61.8" font-size="6.3" fill="#555" text-anchor="end">4</text>
<text x="446.5" y="55.15" font-size="6.3" fill="#555" text-anchor="end">5</text>
<text x="446.5" y="48.5" font-size="6.3" fill="#555" text-anchor="end">6</text>
<text x="446.5" y="41.85" font-size="6.3" fill="#555" text-anchor="end">7</text>
<text x="449.5" y="86.8" font-size="6.3" fill="#555" text-anchor="middle">1</text>
<text x="479.5" y="86.8" font-size="6.3" fill="#555" text-anchor="middle">2</text>
<text x="509.5" y="86.8" font-size="6.3" fill="#555" text-anchor="middle">3</text>
<polyline points="529.5,61.24 559.5,56.52 589.5,64.37" stroke="#3a3a3a" stroke-width="0.65" fill="none"/>
<circle cx="529.5" cy="61.24" r="0.9" fill="#222"/>
<circle cx="559.5" cy="56.52" r="0.9" fill="#222"/>
<circle cx="589.5" cy="64.37" r="0.9" fill="#222"/>
<polyline points="529.5,62.91 559.5,51.8 589.5,61.24" stroke="#3a3a3a" stroke-width="0.65" fill="none"/>
<circle cx="529.5" cy="62.91" r="0.9" fill="#222"/>
<circle cx="559.5" cy="51.8" r="0.9" fill="#222"/>
<circle cx="589.5" cy="61.24" r="0.9" fill="#222"/>
<polyline points="529.5,66.56 559.5,52.87 589.5,60.18" stroke="#3a3a3a" stroke-width="0.65" fill="none"/>
<circle cx="529.5" cy="66.56" r="0.9" fill="#222"/>
<circle cx="559.5" cy="52.87" r="0.9" fill="#222"/>
<circle cx="589.5" cy="60.18" r="0.9" fill="#222"/>
<polyline points="529.5,68.16 559.5,52.33 589.5,61.78" stroke="#3a3a3a" stroke-width="0.65" fill="none"/>
<circle cx="529.5" cy="68.16" r="0.9" fill="#222"/>
<circle cx="559.5" cy="52.33" r="0.9" fill="#222"/>
<circle cx="589.5" cy="61.78" r="0.9" fill="#222"/>
<path d="M529.5 39.3V79.2H589.5" stroke="#222" stroke-width="0.9" fill="none"/>
<path d="M527.3 79.2H529.5M527.3 72.55H529.5M527.3 65.9H529.5M527.3 59.25H529.5M527.3 52.6H529.5M527.3 45.95H529.5M527.3 39.3H529.5M529.5 79.2V81.6M559.5 79.2V81.6M589.5 79.2V81.6" stroke="#222" stroke-width="0.7" fill="none"/>
<text x="526.5" y="81.75" font-size="6.3" fill="#555" text-anchor="end">1</text>
<text x="526.5" y="75.1" font-size="6.3" fill="#555" text-anchor="end">2</text>
<text x="526.5" y="68.45" font-size="6.3" fill="#555" text-anchor="end">3</text>
<text x="526.5" y="61.8" font-size="6.3" fill="#555" text-anchor="end">4</text>
<text x="526.5" y="55.15" font-size="6.3" fill="#555" text-anchor="end">5</text>
<text x="526.5" y="48.5" font-size="6.3" fill="#555" text-anchor="end">6</text>
<text x="526.5" y="41.85" font-size="6.3" fill="#555" text-anchor="end">7</text>
<text x="529.5" y="86.8" font-size="6.3" fill="#555" text-anchor="middle">1</text>
<text x="559.5" y="86.8" font-size="6.3" fill="#555" text-anchor="middle">2</text>
<text x="589.5" y="86.8" font-size="6.3" fill="#555" text-anchor="middle">3</text>
<polyline points="619,56.52 649,51.8 679,56.52" stroke="#3a3a3a" stroke-width="0.65" fill="none"/>
<circle cx="619" cy="56.52" r="0.9" fill="#222"/>
<circle cx="649" cy="51.8" r="0.9" fill="#222"/>
<circle cx="679" cy="56.52" r="0.9" fill="#222"/>
<polyline points="619,71.49 649,48.61 679,48.61" stroke="#3a3a3a" stroke-width="0.65" fill="none"/>
<circle cx="619" cy="71.49" r="0.9" fill="#222"/>
<circle cx="649" cy="48.61" r="0.9" fill="#222"/>
<circle cx="679" cy="48.61" r="0.9" fill="#222"/>
<polyline points="619,75.68 649,51.8 679,56.86" stroke="#3a3a3a" stroke-width="0.65" fill="none"/>
<circle cx="619" cy="75.68" r="0.9" fill="#222"/>
<circle cx="649" cy="51.8" r="0.9" fill="#222"/>
<circle cx="679" cy="56.86" r="0.9" fill="#222"/>
<polyline points="619,77.4 649,54.99 679,56.52" stroke="#3a3a3a" stroke-width="0.65" fill="none"/>
<circle cx="619" cy="77.4" r="0.9" fill="#222"/>
<circle cx="649" cy="54.99" r="0.9" fill="#222"/>
<circle cx="679" cy="56.52" r="0.9" fill="#222"/>
<polyline points="619,79 649,51.8 679,56.52" stroke="#3a3a3a" stroke-width="0.65" fill="none"/>
<circle cx="619" cy="79" r="0.9" fill="#222"/>
<circle cx="649" cy="51.8" r="0.9" fill="#222"/>
<circle cx="679" cy="56.52" r="0.9" fill="#222"/>
<path d="M619 39.3V79.2H679" stroke="#222" stroke-width="0.9" fill="none"/>
<path d="M616.8 79.2H619M616.8 72.55H619M616.8 65.9H619M616.8 59.25H619M616.8 52.6H619M616.8 45.95H619M616.8 39.3H619M619 79.2V81.6M649 79.2V81.6M679 79.2V81.6" stroke="#222" stroke-width="0.7" fill="none"/>
<text x="616" y="81.75" font-size="6.3" fill="#555" text-anchor="end">1</text>
<text x="616" y="75.1" font-size="6.3" fill="#555" text-anchor="end">2</text>
<text x="616" y="68.45" font-size="6.3" fill="#555" text-anchor="end">3</text>
<text x="616" y="61.8" font-size="6.3" fill="#555" text-anchor="end">4</text>
<text x="616" y="55.15" font-size="6.3" fill="#555" text-anchor="end">5</text>
<text x="616" y="48.5" font-size="6.3" fill="#555" text-anchor="end">6</text>
<text x="616" y="41.85" font-size="6.3" fill="#555" text-anchor="end">7</text>
<text x="619" y="86.8" font-size="6.3" fill="#555" text-anchor="middle">1</text>
<text x="649" y="86.8" font-size="6.3" fill="#555" text-anchor="middle">2</text>
<text x="679" y="86.8" font-size="6.3" fill="#555" text-anchor="middle">3</text>
<text x="593.6" y="63" font-size="7" font-weight="bold" fill="#111" stroke="#111" stroke-width="0.18">3.0</text>
<polygon points="372.5,130.2 372.5,128.54 402.5,128.54 432.5,128.54 432.5,130.2" fill="#444"/>
<polyline points="372.5,128.54 402.5,128.54 432.5,128.54" stroke="#333" stroke-width="0.6" fill="none"/>
<circle cx="372.5" cy="129.4" r="1.15" fill="#111"/>
<circle cx="402.5" cy="129.4" r="1.15" fill="#111"/>
<circle cx="432.5" cy="129.4" r="1.15" fill="#111"/>
<path d="M372.5 90.3V130.2H432.5" stroke="#222" stroke-width="0.9" fill="none"/>
<path d="M370.3 130.2H372.5M370.3 123.55H372.5M370.3 116.9H372.5M370.3 110.25H372.5M370.3 103.6H372.5M370.3 96.95H372.5M370.3 90.3H372.5M372.5 130.2V132.6M402.5 130.2V132.6M432.5 130.2V132.6" stroke="#222" stroke-width="0.7" fill="none"/>
<text x="369.5" y="132.75" font-size="6.3" fill="#555" text-anchor="end">1</text>
<text x="369.5" y="126.1" font-size="6.3" fill="#555" text-anchor="end">2</text>
<text x="369.5" y="119.45" font-size="6.3" fill="#555" text-anchor="end">3</text>
<text x="369.5" y="112.8" font-size="6.3" fill="#555" text-anchor="end">4</text>
<text x="369.5" y="106.15" font-size="6.3" fill="#555" text-anchor="end">5</text>
<text x="369.5" y="99.5" font-size="6.3" fill="#555" text-anchor="end">6</text>
<text x="369.5" y="92.85" font-size="6.3" fill="#555" text-anchor="end">7</text>
<text x="372.5" y="137.8" font-size="6.3" fill="#555" text-anchor="middle">1</text>
<text x="402.5" y="137.8" font-size="6.3" fill="#555" text-anchor="middle">2</text>
<text x="432.5" y="137.8" font-size="6.3" fill="#555" text-anchor="middle">3</text>
<polygon points="449.5,130.2 449.5,128.54 479.5,128.54 509.5,128.54 509.5,130.2" fill="#555"/>
<polyline points="449.5,128.54 479.5,128.54 509.5,128.54" stroke="#333" stroke-width="0.6" fill="none"/>
<circle cx="449.5" cy="129.4" r="1.15" fill="#111"/>
<circle cx="479.5" cy="129.4" r="1.15" fill="#111"/>
<circle cx="509.5" cy="129.4" r="1.15" fill="#111"/>
<polyline points="449.5,129.34 479.5,120.82 509.5,119.56" stroke="#3a3a3a" stroke-width="0.65" fill="none"/>
<circle cx="449.5" cy="129.34" r="0.9" fill="#222"/>
<circle cx="479.5" cy="120.82" r="0.9" fill="#222"/>
<circle cx="509.5" cy="119.56" r="0.9" fill="#222"/>
<polyline points="449.5,129.67 479.5,129.34 509.5,121.09" stroke="#3a3a3a" stroke-width="0.65" fill="none"/>
<circle cx="449.5" cy="129.67" r="0.9" fill="#222"/>
<circle cx="479.5" cy="129.34" r="0.9" fill="#222"/>
<circle cx="509.5" cy="121.09" r="0.9" fill="#222"/>
<path d="M449.5 90.3V130.2H509.5" stroke="#222" stroke-width="0.9" fill="none"/>
<path d="M447.3 130.2H449.5M447.3 123.55H449.5M447.3 116.9H449.5M447.3 110.25H449.5M447.3 103.6H449.5M447.3 96.95H449.5M447.3 90.3H449.5M449.5 130.2V132.6M479.5 130.2V132.6M509.5 130.2V132.6" stroke="#222" stroke-width="0.7" fill="none"/>
<text x="446.5" y="132.75" font-size="6.3" fill="#555" text-anchor="end">1</text>
<text x="446.5" y="126.1" font-size="6.3" fill="#555" text-anchor="end">2</text>
<text x="446.5" y="119.45" font-size="6.3" fill="#555" text-anchor="end">3</text>
<text x="446.5" y="112.8" font-size="6.3" fill="#555" text-anchor="end">4</text>
<text x="446.5" y="106.15" font-size="6.3" fill="#555" text-anchor="end">5</text>
<text x="446.5" y="99.5" font-size="6.3" fill="#555" text-anchor="end">6</text>
<text x="446.5" y="92.85" font-size="6.3" fill="#555" text-anchor="end">7</text>
<text x="449.5" y="137.8" font-size="6.3" fill="#555" text-anchor="middle">1</text>
<text x="479.5" y="137.8" font-size="6.3" fill="#555" text-anchor="middle">2</text>
<text x="509.5" y="137.8" font-size="6.3" fill="#555" text-anchor="middle">3</text>
<polygon points="529.5,130.2 529.5,127.21 559.5,128.54 589.5,128.54 589.5,130.2" fill="#777"/>
<polyline points="529.5,127.21 559.5,128.54 589.5,128.54" stroke="#444" stroke-width="0.6" fill="none"/>
<circle cx="529.5" cy="129.4" r="1.15" fill="#111"/>
<circle cx="559.5" cy="129.4" r="1.15" fill="#111"/>
<circle cx="589.5" cy="129.4" r="1.15" fill="#111"/>
<polyline points="529.5,125.94 559.5,109.39 589.5,109.39" stroke="#3a3a3a" stroke-width="0.65" fill="none"/>
<circle cx="529.5" cy="125.94" r="0.9" fill="#222"/>
<circle cx="559.5" cy="109.39" r="0.9" fill="#222"/>
<circle cx="589.5" cy="109.39" r="0.9" fill="#222"/>
<polyline points="529.5,129.4 559.5,129.4 589.5,129.4" stroke="#3a3a3a" stroke-width="0.65" fill="none"/>
<circle cx="529.5" cy="129.4" r="0.9" fill="#222"/>
<circle cx="559.5" cy="129.4" r="0.9" fill="#222"/>
<circle cx="589.5" cy="129.4" r="0.9" fill="#222"/>
<path d="M529.5 90.3V130.2H589.5" stroke="#222" stroke-width="0.9" fill="none"/>
<path d="M527.3 130.2H529.5M527.3 123.55H529.5M527.3 116.9H529.5M527.3 110.25H529.5M527.3 103.6H529.5M527.3 96.95H529.5M527.3 90.3H529.5M529.5 130.2V132.6M559.5 130.2V132.6M589.5 130.2V132.6" stroke="#222" stroke-width="0.7" fill="none"/>
<text x="526.5" y="132.75" font-size="6.3" fill="#555" text-anchor="end">1</text>
<text x="526.5" y="126.1" font-size="6.3" fill="#555" text-anchor="end">2</text>
<text x="526.5" y="119.45" font-size="6.3" fill="#555" text-anchor="end">3</text>
<text x="526.5" y="112.8" font-size="6.3" fill="#555" text-anchor="end">4</text>
<text x="526.5" y="106.15" font-size="6.3" fill="#555" text-anchor="end">5</text>
<text x="526.5" y="99.5" font-size="6.3" fill="#555" text-anchor="end">6</text>
<text x="526.5" y="92.85" font-size="6.3" fill="#555" text-anchor="end">7</text>
<text x="529.5" y="137.8" font-size="6.3" fill="#555" text-anchor="middle">1</text>
<text x="559.5" y="137.8" font-size="6.3" fill="#555" text-anchor="middle">2</text>
<text x="589.5" y="137.8" font-size="6.3" fill="#555" text-anchor="middle">3</text>
<text x="593.6" y="114" font-size="7" font-weight="bold" fill="#111" stroke="#111" stroke-width="0.18">4.0</text>
<polygon points="372.5,183 372.5,180.58 402.5,181.32 432.5,181.32 432.5,183" fill="#c8c8c8"/>
<polyline points="372.5,180.58 402.5,181.32 432.5,181.32" stroke="#333" stroke-width="0.6" fill="none"/>
<circle cx="372.5" cy="182.19" r="1.15" fill="#111"/>
<circle cx="402.5" cy="182.19" r="1.15" fill="#111"/>
<circle cx="432.5" cy="182.19" r="1.15" fill="#111"/>
<path d="M372.5 142.7V183H432.5" stroke="#222" stroke-width="0.9" fill="none"/>
<path d="M370.3 183H372.5M370.3 176.28H372.5M370.3 169.57H372.5M370.3 162.85H372.5M370.3 156.13H372.5M370.3 149.42H372.5M370.3 142.7H372.5M372.5 183V185.4M402.5 183V185.4M432.5 183V185.4" stroke="#222" stroke-width="0.7" fill="none"/>
<text x="369.5" y="185.55" font-size="6.3" fill="#555" text-anchor="end">1</text>
<text x="369.5" y="178.83" font-size="6.3" fill="#555" text-anchor="end">2</text>
<text x="369.5" y="172.12" font-size="6.3" fill="#555" text-anchor="end">3</text>
<text x="369.5" y="165.4" font-size="6.3" fill="#555" text-anchor="end">4</text>
<text x="369.5" y="158.68" font-size="6.3" fill="#555" text-anchor="end">5</text>
<text x="369.5" y="151.97" font-size="6.3" fill="#555" text-anchor="end">6</text>
<text x="369.5" y="145.25" font-size="6.3" fill="#555" text-anchor="end">7</text>
<text x="372.5" y="190.6" font-size="6.3" fill="#555" text-anchor="middle">1</text>
<text x="402.5" y="190.6" font-size="6.3" fill="#555" text-anchor="middle">2</text>
<text x="432.5" y="190.6" font-size="6.3" fill="#555" text-anchor="middle">3</text>
<polygon points="449.5,183 449.5,180.98 479.5,180.98 509.5,180.98 509.5,183" fill="#c8c8c8"/>
<polyline points="449.5,180.98 479.5,180.98 509.5,180.98" stroke="#333" stroke-width="0.6" fill="none"/>
<circle cx="449.5" cy="182.19" r="1.15" fill="#111"/>
<circle cx="479.5" cy="182.19" r="1.15" fill="#111"/>
<circle cx="509.5" cy="182.19" r="1.15" fill="#111"/>
<polyline points="449.5,181.12 479.5,158.48 509.5,162.72" stroke="#3a3a3a" stroke-width="0.65" fill="none"/>
<circle cx="449.5" cy="181.12" r="0.9" fill="#222"/>
<circle cx="479.5" cy="158.48" r="0.9" fill="#222"/>
<circle cx="509.5" cy="162.72" r="0.9" fill="#222"/>
<polyline points="449.5,177.09 479.5,176.89 509.5,163.19" stroke="#3a3a3a" stroke-width="0.65" fill="none"/>
<circle cx="449.5" cy="177.09" r="0.9" fill="#222"/>
<circle cx="479.5" cy="176.89" r="0.9" fill="#222"/>
<circle cx="509.5" cy="163.19" r="0.9" fill="#222"/>
<polyline points="449.5,176.89 479.5,180.98 509.5,180.98" stroke="#3a3a3a" stroke-width="0.65" fill="none"/>
<circle cx="449.5" cy="176.89" r="0.9" fill="#222"/>
<circle cx="479.5" cy="180.98" r="0.9" fill="#222"/>
<circle cx="509.5" cy="180.98" r="0.9" fill="#222"/>
<path d="M449.5 142.7V183H509.5" stroke="#222" stroke-width="0.9" fill="none"/>
<path d="M447.3 183H449.5M447.3 176.28H449.5M447.3 169.57H449.5M447.3 162.85H449.5M447.3 156.13H449.5M447.3 149.42H449.5M447.3 142.7H449.5M449.5 183V185.4M479.5 183V185.4M509.5 183V185.4" stroke="#222" stroke-width="0.7" fill="none"/>
<text x="446.5" y="185.55" font-size="6.3" fill="#555" text-anchor="end">1</text>
<text x="446.5" y="178.83" font-size="6.3" fill="#555" text-anchor="end">2</text>
<text x="446.5" y="172.12" font-size="6.3" fill="#555" text-anchor="end">3</text>
<text x="446.5" y="165.4" font-size="6.3" fill="#555" text-anchor="end">4</text>
<text x="446.5" y="158.68" font-size="6.3" fill="#555" text-anchor="end">5</text>
<text x="446.5" y="151.97" font-size="6.3" fill="#555" text-anchor="end">6</text>
<text x="446.5" y="145.25" font-size="6.3" fill="#555" text-anchor="end">7</text>
<text x="449.5" y="190.6" font-size="6.3" fill="#555" text-anchor="middle">1</text>
<text x="479.5" y="190.6" font-size="6.3" fill="#555" text-anchor="middle">2</text>
<text x="509.5" y="190.6" font-size="6.3" fill="#555" text-anchor="middle">3</text>
<polygon points="529.5,183 529.5,181.12 559.5,180.04 589.5,181.52 589.5,183" fill="#c8c8c8"/>
<polyline points="529.5,181.12 559.5,180.04 589.5,181.52" stroke="#333" stroke-width="0.6" fill="none"/>
<circle cx="529.5" cy="182.19" r="1.15" fill="#111"/>
<circle cx="559.5" cy="182.19" r="1.15" fill="#111"/>
<circle cx="589.5" cy="182.19" r="1.15" fill="#111"/>
<polyline points="529.5,161.98 559.5,170.04 589.5,162.38" stroke="#3a3a3a" stroke-width="0.65" fill="none"/>
<circle cx="529.5" cy="161.98" r="0.9" fill="#222"/>
<circle cx="559.5" cy="170.04" r="0.9" fill="#222"/>
<circle cx="589.5" cy="162.38" r="0.9" fill="#222"/>
<polyline points="529.5,170.04 559.5,171.45 589.5,161.98" stroke="#3a3a3a" stroke-width="0.65" fill="none"/>
<circle cx="529.5" cy="170.04" r="0.9" fill="#222"/>
<circle cx="559.5" cy="171.45" r="0.9" fill="#222"/>
<circle cx="589.5" cy="161.98" r="0.9" fill="#222"/>
<polyline points="529.5,176.35 559.5,181.12 589.5,181.93" stroke="#3a3a3a" stroke-width="0.65" fill="none"/>
<circle cx="529.5" cy="176.35" r="0.9" fill="#222"/>
<circle cx="559.5" cy="181.12" r="0.9" fill="#222"/>
<circle cx="589.5" cy="181.93" r="0.9" fill="#222"/>
<path d="M529.5 142.7V183H589.5" stroke="#222" stroke-width="0.9" fill="none"/>
<path d="M527.3 183H529.5M527.3 176.28H529.5M527.3 169.57H529.5M527.3 162.85H529.5M527.3 156.13H529.5M527.3 149.42H529.5M527.3 142.7H529.5M529.5 183V185.4M559.5 183V185.4M589.5 183V185.4" stroke="#222" stroke-width="0.7" fill="none"/>
<text x="526.5" y="185.55" font-size="6.3" fill="#555" text-anchor="end">1</text>
<text x="526.5" y="178.83" font-size="6.3" fill="#555" text-anchor="end">2</text>
<text x="526.5" y="172.12" font-size="6.3" fill="#555" text-anchor="end">3</text>
<text x="526.5" y="165.4" font-size="6.3" fill="#555" text-anchor="end">4</text>
<text x="526.5" y="158.68" font-size="6.3" fill="#555" text-anchor="end">5</text>
<text x="526.5" y="151.97" font-size="6.3" fill="#555" text-anchor="end">6</text>
<text x="526.5" y="145.25" font-size="6.3" fill="#555" text-anchor="end">7</text>
<text x="529.5" y="190.6" font-size="6.3" fill="#555" text-anchor="middle">1</text>
<text x="559.5" y="190.6" font-size="6.3" fill="#555" text-anchor="middle">2</text>
<text x="589.5" y="190.6" font-size="6.3" fill="#555" text-anchor="middle">3</text>
<text x="593.6" y="164.3" font-size="7" font-weight="bold" fill="#111" stroke="#111" stroke-width="0.18">5.0</text>
<polygon points="372.5,236 372.5,233.97 402.5,233.97 432.5,233.97 432.5,236" fill="#c0c0c0"/>
<polyline points="372.5,233.97 402.5,233.97 432.5,233.97" stroke="#444" stroke-width="0.6" fill="none"/>
<circle cx="372.5" cy="235.19" r="1.15" fill="#111"/>
<circle cx="402.5" cy="235.19" r="1.15" fill="#111"/>
<circle cx="432.5" cy="235.19" r="1.15" fill="#111"/>
<path d="M372.5 195.5V236H432.5" stroke="#222" stroke-width="0.9" fill="none"/>
<path d="M370.3 236H372.5M370.3 229.25H372.5M370.3 222.5H372.5M370.3 215.75H372.5M370.3 209H372.5M370.3 202.25H372.5M370.3 195.5H372.5M372.5 236V238.4M402.5 236V238.4M432.5 236V238.4" stroke="#222" stroke-width="0.7" fill="none"/>
<text x="369.5" y="238.55" font-size="6.3" fill="#555" text-anchor="end">1</text>
<text x="369.5" y="231.8" font-size="6.3" fill="#555" text-anchor="end">2</text>
<text x="369.5" y="225.05" font-size="6.3" fill="#555" text-anchor="end">3</text>
<text x="369.5" y="218.3" font-size="6.3" fill="#555" text-anchor="end">4</text>
<text x="369.5" y="211.55" font-size="6.3" fill="#555" text-anchor="end">5</text>
<text x="369.5" y="204.8" font-size="6.3" fill="#555" text-anchor="end">6</text>
<text x="369.5" y="198.05" font-size="6.3" fill="#555" text-anchor="end">7</text>
<text x="372.5" y="243.6" font-size="6.3" fill="#555" text-anchor="middle">1</text>
<text x="402.5" y="243.6" font-size="6.3" fill="#555" text-anchor="middle">2</text>
<text x="432.5" y="243.6" font-size="6.3" fill="#555" text-anchor="middle">3</text>
<polygon points="449.5,236 449.5,233.97 479.5,233.97 509.5,233.97 509.5,236" fill="#c0c0c0"/>
<polyline points="449.5,233.97 479.5,233.97 509.5,233.97" stroke="#444" stroke-width="0.6" fill="none"/>
<circle cx="449.5" cy="235.19" r="1.15" fill="#111"/>
<circle cx="479.5" cy="235.19" r="1.15" fill="#111"/>
<circle cx="509.5" cy="235.19" r="1.15" fill="#111"/>
<polyline points="449.5,221.49 479.5,221.49 509.5,227.76" stroke="#3a3a3a" stroke-width="0.65" fill="none"/>
<circle cx="449.5" cy="221.49" r="0.9" fill="#222"/>
<circle cx="479.5" cy="221.49" r="0.9" fill="#222"/>
<circle cx="509.5" cy="227.76" r="0.9" fill="#222"/>
<polyline points="449.5,234.65 479.5,234.65 509.5,231.48" stroke="#3a3a3a" stroke-width="0.65" fill="none"/>
<circle cx="449.5" cy="234.65" r="0.9" fill="#222"/>
<circle cx="479.5" cy="234.65" r="0.9" fill="#222"/>
<circle cx="509.5" cy="231.48" r="0.9" fill="#222"/>
<path d="M449.5 195.5V236H509.5" stroke="#222" stroke-width="0.9" fill="none"/>
<path d="M447.3 236H449.5M447.3 229.25H449.5M447.3 222.5H449.5M447.3 215.75H449.5M447.3 209H449.5M447.3 202.25H449.5M447.3 195.5H449.5M449.5 236V238.4M479.5 236V238.4M509.5 236V238.4" stroke="#222" stroke-width="0.7" fill="none"/>
<text x="446.5" y="238.55" font-size="6.3" fill="#555" text-anchor="end">1</text>
<text x="446.5" y="231.8" font-size="6.3" fill="#555" text-anchor="end">2</text>
<text x="446.5" y="225.05" font-size="6.3" fill="#555" text-anchor="end">3</text>
<text x="446.5" y="218.3" font-size="6.3" fill="#555" text-anchor="end">4</text>
<text x="446.5" y="211.55" font-size="6.3" fill="#555" text-anchor="end">5</text>
<text x="446.5" y="204.8" font-size="6.3" fill="#555" text-anchor="end">6</text>
<text x="446.5" y="198.05" font-size="6.3" fill="#555" text-anchor="end">7</text>
<text x="449.5" y="243.6" font-size="6.3" fill="#555" text-anchor="middle">1</text>
<text x="479.5" y="243.6" font-size="6.3" fill="#555" text-anchor="middle">2</text>
<text x="509.5" y="243.6" font-size="6.3" fill="#555" text-anchor="middle">3</text>
<polygon points="529.5,236 529.5,233.3 559.5,231.95 589.5,234.11 589.5,236" fill="#d4d4d4"/>
<polyline points="529.5,233.3 559.5,231.95 589.5,234.11" stroke="#555" stroke-width="0.6" fill="none"/>
<circle cx="529.5" cy="235.19" r="1.15" fill="#111"/>
<circle cx="559.5" cy="235.19" r="1.15" fill="#111"/>
<circle cx="589.5" cy="235.19" r="1.15" fill="#111"/>
<polyline points="529.5,227.76 559.5,216.09 589.5,234.31" stroke="#3a3a3a" stroke-width="0.65" fill="none"/>
<circle cx="529.5" cy="227.76" r="0.9" fill="#222"/>
<circle cx="559.5" cy="216.09" r="0.9" fill="#222"/>
<circle cx="589.5" cy="234.31" r="0.9" fill="#222"/>
<polyline points="529.5,233.57 559.5,234.11 589.5,221.96" stroke="#3a3a3a" stroke-width="0.65" fill="none"/>
<circle cx="529.5" cy="233.57" r="0.9" fill="#222"/>
<circle cx="559.5" cy="234.11" r="0.9" fill="#222"/>
<circle cx="589.5" cy="221.96" r="0.9" fill="#222"/>
<polyline points="529.5,234.11 559.5,234.31 589.5,222.5" stroke="#3a3a3a" stroke-width="0.65" fill="none"/>
<circle cx="529.5" cy="234.11" r="0.9" fill="#222"/>
<circle cx="559.5" cy="234.31" r="0.9" fill="#222"/>
<circle cx="589.5" cy="222.5" r="0.9" fill="#222"/>
<polyline points="529.5,233.03 559.5,230.94 589.5,234.11" stroke="#3a3a3a" stroke-width="0.65" fill="none"/>
<circle cx="529.5" cy="233.03" r="0.9" fill="#222"/>
<circle cx="559.5" cy="230.94" r="0.9" fill="#222"/>
<circle cx="589.5" cy="234.11" r="0.9" fill="#222"/>
<path d="M529.5 195.5V236H589.5" stroke="#222" stroke-width="0.9" fill="none"/>
<path d="M527.3 236H529.5M527.3 229.25H529.5M527.3 222.5H529.5M527.3 215.75H529.5M527.3 209H529.5M527.3 202.25H529.5M527.3 195.5H529.5M529.5 236V238.4M559.5 236V238.4M589.5 236V238.4" stroke="#222" stroke-width="0.7" fill="none"/>
<text x="526.5" y="238.55" font-size="6.3" fill="#555" text-anchor="end">1</text>
<text x="526.5" y="231.8" font-size="6.3" fill="#555" text-anchor="end">2</text>
<text x="526.5" y="225.05" font-size="6.3" fill="#555" text-anchor="end">3</text>
<text x="526.5" y="218.3" font-size="6.3" fill="#555" text-anchor="end">4</text>
<text x="526.5" y="211.55" font-size="6.3" fill="#555" text-anchor="end">5</text>
<text x="526.5" y="204.8" font-size="6.3" fill="#555" text-anchor="end">6</text>
<text x="526.5" y="198.05" font-size="6.3" fill="#555" text-anchor="end">7</text>
<text x="529.5" y="243.6" font-size="6.3" fill="#555" text-anchor="middle">1</text>
<text x="559.5" y="243.6" font-size="6.3" fill="#555" text-anchor="middle">2</text>
<text x="589.5" y="243.6" font-size="6.3" fill="#555" text-anchor="middle">3</text>
<text x="593.6" y="218.2" font-size="7" font-weight="bold" fill="#111" stroke="#111" stroke-width="0.18">6.0</text>
<text transform="translate(349.3 191.5) rotate(-90) scale(1 0.9)" font-size="8.6" font-weight="bold" fill="#111" stroke="#111" stroke-width="0.18">Virus titer (Log<tspan font-size="4.4" dy="2.0">10</tspan><tspan dy="-2.0"> TCID</tspan><tspan font-size="4.4" dy="2.0">50</tspan><tspan dy="-2.0">/ml)</tspan></text>
<text x="427.5" y="257.6" font-size="8.6" font-weight="bold" fill="#111" stroke="#111" stroke-width="0.18">Time post-challenge (days)</text>
<text x="-0.5" y="282" font-size="14" font-weight="bold" fill="#000">c</text>
<path d="M57 424.5H256" stroke="#333" stroke-width="0.9" stroke-dasharray="1 1.5" fill="none"/>
<rect x="67.75" y="316.65" width="6.8" height="112.85" fill="#151515" stroke="#151515" stroke-width="0.9"/>
<path d="M70.1 305L72.8 307.7L70.1 310.4L67.4 307.7Z" fill="#fff" stroke="#111" stroke-width="1.0"/>
<path d="M71.4 311.57L74 316.38L68.8 316.38Z" fill="#fff" stroke="#111" stroke-width="1.0"/>
<path d="M71.2 330.3L73.3 332.4L71.2 334.5L69.1 332.4Z" fill="#fff" stroke="#fff" stroke-width="0.3"/>
<path d="M93.9 340.3V405" stroke="#c8c8c8" stroke-width="0.9" fill="none"/>
<path d="M92.3 340.5H95.5" stroke="#bbb" stroke-width="0.8" fill="none"/>
<rect x="90.65" y="405.35" width="6.6" height="24.15" fill="#fff" stroke="#222" stroke-width="0.9"/>
<circle cx="93.9" cy="325.3" r="2.65" fill="#111"/>
<circle cx="93.9" cy="384.8" r="2.65" fill="#111"/>
<circle cx="93.1" cy="422" r="2.4" fill="#111"/>
<circle cx="94.8" cy="424.2" r="2.4" fill="#111"/>
<rect x="101.45" y="342.75" width="6.7" height="86.75" fill="#9e9e9e" stroke="#4a4a4a" stroke-width="0.9"/>
<path d="M104.4 327.6V344" stroke="#333" stroke-width="0.7" fill="none"/>
<path d="M104.4 324.87L107 329.68L101.8 329.68Z" fill="#fff" stroke="#111" stroke-width="1.0"/>
<path d="M104.4 337.57L107 342.38L101.8 342.38Z" fill="#fff" stroke="#111" stroke-width="1.0"/>
<rect x="103.5" y="342.9" width="3.6" height="3.6" fill="#fff" stroke="#222" stroke-width="0.9"/>
<rect x="111.65" y="340.15" width="6.8" height="89.35" fill="#5c5c5c" stroke="#2e2e2e" stroke-width="0.9"/>
<path d="M115.2 331V356" stroke="#222" stroke-width="0.7" fill="none"/>
<rect x="111.55" y="328.45" width="5.5" height="5.5" fill="#fff" stroke="#222" stroke-width="1.0"/>
<rect x="113.75" y="335.65" width="5.5" height="5.5" fill="#fff" stroke="#222" stroke-width="1.0"/>
<rect x="112.65" y="355.95" width="5.5" height="5.5" fill="#fff" stroke="#222" stroke-width="1.0"/>
<path d="M136.2 348.6V417" stroke="#444" stroke-width="0.7" fill="none"/>
<path d="M134.6 348.6H137.8" stroke="#888" stroke-width="0.8" fill="none"/>
<rect x="132.95" y="416.75" width="6.3" height="12.75" fill="#fff" stroke="#222" stroke-width="0.9"/>
<circle cx="136.2" cy="327.9" r="2.65" fill="#111"/>
<circle cx="136.4" cy="410.7" r="2.65" fill="#111"/>
<circle cx="135.1" cy="420.3" r="2.4" fill="#111"/>
<circle cx="137.2" cy="422.5" r="2.4" fill="#111"/>
<rect x="143.75" y="342.75" width="6.8" height="86.75" fill="#9e9e9e" stroke="#4a4a4a" stroke-width="0.9"/>
<path d="M147 336V373.8" stroke="#555" stroke-width="0.7" fill="none"/>
<path d="M145.8 332.37L148.4 337.18L143.2 337.18Z" fill="#fff" stroke="#111" stroke-width="1.0"/>
<path d="M148.5 332.37L151.1 337.18L145.9 337.18Z" fill="#fff" stroke="#111" stroke-width="1.0"/>
<path d="M146.8 345.19L149.1 349.44L144.5 349.44Z" fill="#fff" stroke="#222" stroke-width="0.9"/>
<path d="M146.8 371.38L149.1 375.64L144.5 375.64Z" fill="#fff" stroke="#222" stroke-width="0.9"/>
<rect x="154.35" y="351.65" width="7" height="77.85" fill="#5c5c5c" stroke="#2e2e2e" stroke-width="0.9"/>
<path d="M157.5 334V388" stroke="#222" stroke-width="0.7" fill="none"/>
<rect x="154.75" y="327.05" width="5.5" height="5.5" fill="#fff" stroke="#222" stroke-width="1.0"/>
<rect x="153.75" y="346.75" width="5.5" height="5.5" fill="#fff" stroke="#222" stroke-width="1.0"/>
<rect x="156.15" y="351.15" width="5.5" height="5.5" fill="#fff" stroke="#222" stroke-width="1.0"/>
<rect x="155.6" y="386.5" width="4" height="4" fill="#fff" stroke="#222" stroke-width="0.9"/>
<path d="M178.9 410.2V424" stroke="#c8c8c8" stroke-width="0.9" fill="none"/>
<path d="M177.3 410.2H180.5" stroke="#888" stroke-width="0.8" fill="none"/>
<rect x="175.65" y="425.05" width="6.6" height="4.45" fill="#fff" stroke="#222" stroke-width="0.9"/>
<circle cx="178.9" cy="404.9" r="2.65" fill="#111"/>
<ellipse cx="178.9" cy="424.6" rx="3.6" ry="2.3" fill="#111"/>
<rect x="186.45" y="356.75" width="7" height="72.75" fill="#9e9e9e" stroke="#4a4a4a" stroke-width="0.9"/>
<path d="M190 341.2V368" stroke="#333" stroke-width="0.7" fill="none"/>
<path d="M188.4 338.47L191 343.28L185.8 343.28Z" fill="#fff" stroke="#111" stroke-width="1.0"/>
<path d="M190.7 345.07L193.3 349.88L188.1 349.88Z" fill="#fff" stroke="#111" stroke-width="1.0"/>
<path d="M188.4 361.28L190.8 365.72L186 365.72Z" fill="#fff" stroke="#111" stroke-width="1.0"/>
<path d="M190.6 365.58L193 370.02L188.2 370.02Z" fill="#fff" stroke="#111" stroke-width="1.0"/>
<rect x="196.65" y="341.65" width="7" height="87.85" fill="#5c5c5c" stroke="#2e2e2e" stroke-width="0.9"/>
<path d="M200.2 323.5V345" stroke="#333" stroke-width="0.7" fill="none"/>
<rect x="197.45" y="320.75" width="5.5" height="5.5" fill="#fff" stroke="#222" stroke-width="1.0"/>
<rect x="197.45" y="331.25" width="5.5" height="5.5" fill="#fff" stroke="#222" stroke-width="1.0"/>
<rect x="196.35" y="342.15" width="5.5" height="5.5" fill="#fff" stroke="#222" stroke-width="1.0"/>
<rect x="198.45" y="344.45" width="5.5" height="5.5" fill="#fff" stroke="#222" stroke-width="1.0"/>
<path d="M222.4 411.1V424" stroke="#444" stroke-width="0.7" fill="none"/>
<path d="M220.8 411.1H224" stroke="#888" stroke-width="0.8" fill="none"/>
<rect x="218.95" y="425.05" width="6.3" height="4.45" fill="#fff" stroke="#222" stroke-width="0.9"/>
<circle cx="222.4" cy="406.8" r="2.65" fill="#111"/>
<ellipse cx="222.4" cy="424.4" rx="3.6" ry="2.3" fill="#111"/>
<rect x="229.45" y="369.55" width="7" height="59.95" fill="#9e9e9e" stroke="#4a4a4a" stroke-width="0.9"/>
<path d="M232.7 363V398.4" stroke="#777" stroke-width="0.7" fill="none"/>
<path d="M232 360.18L234.5 364.8L229.5 364.8Z" fill="#fff" stroke="#111" stroke-width="1.0"/>
<path d="M232.7 362.88L235.1 367.32L230.3 367.32Z" fill="#fff" stroke="#111" stroke-width="1.0"/>
<path d="M234 367.19L236.3 371.44L231.7 371.44Z" fill="#fff" stroke="#111" stroke-width="1.0"/>
<path d="M232.7 395.98L235 400.24L230.4 400.24Z" fill="#fff" stroke="#222" stroke-width="0.9"/>
<rect x="240.35" y="348.15" width="7" height="81.35" fill="#5c5c5c" stroke="#2e2e2e" stroke-width="0.9"/>
<path d="M243.8 343V378" stroke="#222" stroke-width="0.7" fill="none"/>
<rect x="239.75" y="339.75" width="5.5" height="5.5" fill="#fff" stroke="#222" stroke-width="1.0"/>
<rect x="241.45" y="346.65" width="5.5" height="5.5" fill="#fff" stroke="#222" stroke-width="1.0"/>
<rect x="241.6" y="375.7" width="4.4" height="4.4" fill="#fff" stroke="#222" stroke-width="0.9"/>
<path d="M93.9 294.4V298.4M92.15 295.4L95.65 297.4M92.15 297.4L95.65 295.4" stroke="#222" stroke-width="1.0" fill="none"/>
<path d="M93.9 288.8V292.8M92.15 289.8L95.65 291.8M92.15 291.8L95.65 289.8" stroke="#222" stroke-width="1.0" fill="none"/>
<path d="M93.9 283.2V287.2M92.15 284.2L95.65 286.2M92.15 286.2L95.65 284.2" stroke="#222" stroke-width="1.0" fill="none"/>
<path d="M93.9 277.6V281.6M92.15 278.6L95.65 280.6M92.15 280.6L95.65 278.6" stroke="#222" stroke-width="1.0" fill="none"/>
<path d="M136.2 294.4V298.4M134.45 295.4L137.95 297.4M134.45 297.4L137.95 295.4" stroke="#222" stroke-width="1.0" fill="none"/>
<path d="M136.2 288.8V292.8M134.45 289.8L137.95 291.8M134.45 291.8L137.95 289.8" stroke="#222" stroke-width="1.0" fill="none"/>
<path d="M136.2 283.2V287.2M134.45 284.2L137.95 286.2M134.45 286.2L137.95 284.2" stroke="#222" stroke-width="1.0" fill="none"/>
<path d="M136.2 277.6V281.6M134.45 278.6L137.95 280.6M134.45 280.6L137.95 278.6" stroke="#222" stroke-width="1.0" fill="none"/>
<path d="M178.6 294.4V298.4M176.85 295.4L180.35 297.4M176.85 297.4L180.35 295.4" stroke="#222" stroke-width="1.0" fill="none"/>
<path d="M178.6 288.8V292.8M176.85 289.8L180.35 291.8M176.85 291.8L180.35 289.8" stroke="#222" stroke-width="1.0" fill="none"/>
<path d="M178.6 283.2V287.2M176.85 284.2L180.35 286.2M176.85 286.2L180.35 284.2" stroke="#222" stroke-width="1.0" fill="none"/>
<path d="M178.6 277.6V281.6M176.85 278.6L180.35 280.6M176.85 280.6L180.35 278.6" stroke="#222" stroke-width="1.0" fill="none"/>
<path d="M222.4 294.4V298.4M220.65 295.4L224.15 297.4M220.65 297.4L224.15 295.4" stroke="#222" stroke-width="1.0" fill="none"/>
<path d="M222.4 288.8V292.8M220.65 289.8L224.15 291.8M220.65 291.8L224.15 289.8" stroke="#222" stroke-width="1.0" fill="none"/>
<path d="M222.4 283.2V287.2M220.65 284.2L224.15 286.2M220.65 286.2L224.15 284.2" stroke="#222" stroke-width="1.0" fill="none"/>
<path d="M222.4 277.6V281.6M220.65 278.6L224.15 280.6M220.65 280.6L224.15 278.6" stroke="#222" stroke-width="1.0" fill="none"/>
<path d="M232.7 294.4V298.4M230.95 295.4L234.45 297.4M230.95 297.4L234.45 295.4" stroke="#222" stroke-width="1.0" fill="none"/>
<path d="M232.7 288.8V292.8M230.95 289.8L234.45 291.8M230.95 291.8L234.45 289.8" stroke="#222" stroke-width="1.0" fill="none"/>
<path d="M57 298V429.5H256" stroke="#7d7d7d" stroke-width="1" fill="none"/>
<path d="M53 429.5H57M53 403.2H57M53 376.9H57M53 350.6H57M53 324.3H57M53 298H57" stroke="#7d7d7d" stroke-width="1" fill="none"/>
<path d="M71.4 429.5V434M104.7 429.5V434M147 429.5V434M189.7 429.5V434M233 429.5V434" stroke="#444" stroke-width="0.9" fill="none"/>
<text x="51.5" y="432.5" font-size="8.4" fill="#333" text-anchor="end">1</text>
<text x="51.5" y="406.2" font-size="8.4" fill="#333" text-anchor="end">2</text>
<text x="51.5" y="379.9" font-size="8.4" fill="#333" text-anchor="end">3</text>
<text x="51.5" y="353.6" font-size="8.4" fill="#333" text-anchor="end">4</text>
<text x="51.5" y="327.3" font-size="8.4" fill="#333" text-anchor="end">5</text>
<text x="51.5" y="301" font-size="8.4" fill="#333" text-anchor="end">6</text>
<text x="71.4" y="442.7" font-size="8.4" fill="#333" text-anchor="middle">0</text>
<text x="104.7" y="442.7" font-size="8.4" fill="#333" text-anchor="middle">3</text>
<text x="147" y="442.7" font-size="8.4" fill="#333" text-anchor="middle">4</text>
<text x="189.7" y="442.7" font-size="8.4" fill="#333" text-anchor="middle">5</text>
<text x="233" y="442.7" font-size="8.4" fill="#333" text-anchor="middle">6</text>
<text x="118" y="453.1" font-size="8.5" font-weight="bold" fill="#111" stroke="#111" stroke-width="0.18">Dose (Log<tspan font-size="4.6" dy="2.0">10</tspan><tspan dy="-2.0"> FFU)</tspan></text>
<text transform="translate(19.3 365) rotate(-90) scale(1 0.9)" font-size="8.6" font-weight="bold" fill="#111" stroke="#111" stroke-width="0.18" text-anchor="middle">WT virus shedding</text>
<text transform="translate(28.4 364.5) rotate(-90) scale(1 0.9)" font-size="8.6" font-weight="bold" fill="#111" stroke="#111" stroke-width="0.18" text-anchor="middle">(GMT Log<tspan font-size="4.4" dy="2.0">10</tspan><tspan dy="-2.0"> TCID</tspan><tspan font-size="4.4" dy="2.0">50</tspan><tspan dy="-2.0">/ml)</tspan></text>
<text x="342.7" y="282" font-size="14" font-weight="bold" fill="#000">d</text>
<path d="M405.5 424.5H604.5" stroke="#333" stroke-width="0.9" stroke-dasharray="1 1.5" fill="none"/>
<path d="M419.4 332.4V350" stroke="#555" stroke-width="0.7" fill="none"/>
<rect x="416.45" y="350.25" width="6.5" height="79.95" fill="#151515" stroke="#151515" stroke-width="0.9"/>
<path d="M419.4 329.8L422 332.4L419.4 335L416.8 332.4Z" fill="#fff" stroke="#111" stroke-width="1.0"/>
<path d="M418.8 342.9L421.4 345.5L418.8 348.1L416.2 345.5Z" fill="#fff" stroke="#111" stroke-width="1.0"/>
<path d="M420.7 350.5L422.7 352.5L420.7 354.5L418.7 352.5Z" fill="#fff" stroke="#fff" stroke-width="0.3"/>
<path d="M419.4 360.6L421.4 362.6L419.4 364.6L417.4 362.6Z" fill="#fff" stroke="#fff" stroke-width="0.3"/>
<path d="M442.1 404.7V423" stroke="#6d8d9b" stroke-width="0.8" fill="none"/>
<path d="M440.9 404.7H443.3" stroke="#6d8d9b" stroke-width="0.8" fill="none"/>
<rect x="438.75" y="423.75" width="6.7" height="6.45" fill="#fff" stroke="#1b4f63" stroke-width="0.9"/>
<circle cx="442.1" cy="398.3" r="2.75" fill="#1b4f63"/>
<ellipse cx="442.1" cy="423.4" rx="3.5" ry="2.6" fill="#1b4f63"/>
<path d="M452.7 374.4V414" stroke="#b9ccd6" stroke-width="0.9" fill="none"/>
<path d="M451.1 374.4H454.3" stroke="#b9ccd6" stroke-width="0.8" fill="none"/>
<rect x="449.65" y="419.65" width="6.5" height="10.55" fill="#a5c5ea" stroke="#1b4f63" stroke-width="0.9"/>
<path d="M452.7 358.88L455.2 363.5L450.2 363.5Z" fill="#fff" stroke="#1b4f63" stroke-width="1.0"/>
<path d="M452.7 411.38L455.2 416L450.2 416Z" fill="#fff" stroke="#1b4f63" stroke-width="1.0"/>
<path d="M452 420.28L454.3 424.54L449.7 424.54Z" fill="#fff" stroke="#1b4f63" stroke-width="1.0"/>
<path d="M453.5 423.28L455.8 427.54L451.2 427.54Z" fill="#fff" stroke="#1b4f63" stroke-width="1.0"/>
<rect x="460.45" y="350.15" width="6.5" height="80.05" fill="#2d7f91" stroke="#1b4f63" stroke-width="0.9"/>
<rect x="460.8" y="349.3" width="4.8" height="4.8" fill="#fff" stroke="#1b4f63" stroke-width="1.0"/>
<rect x="462.7" y="352.8" width="4.4" height="4.4" fill="#fff" stroke="#1b4f63" stroke-width="1.0"/>
<rect x="481.65" y="423.15" width="6.4" height="7.05" fill="#fff" stroke="#1b4f63" stroke-width="0.9"/>
<ellipse cx="484.9" cy="423.8" rx="3.8" ry="2.4" fill="#1b4f63"/>
<path d="M495.6 400.9V414" stroke="#1b4f63" stroke-width="0.7" fill="none"/>
<rect x="491.85" y="420.65" width="6.6" height="9.55" fill="#a5c5ea" stroke="#1b4f63" stroke-width="0.9"/>
<path d="M495.6 398.27L498.1 402.9L493.1 402.9Z" fill="#fff" stroke="#1b4f63" stroke-width="1.0"/>
<path d="M495.6 411.38L498.1 416L493.1 416Z" fill="#fff" stroke="#1b4f63" stroke-width="1.0"/>
<path d="M495 421.58L497.3 425.84L492.7 425.84Z" fill="#fff" stroke="#1b4f63" stroke-width="1.0"/>
<path d="M506.1 381.2V421" stroke="#b9ccd6" stroke-width="0.9" fill="none"/>
<path d="M504.5 381.2H507.7" stroke="#b9ccd6" stroke-width="0.8" fill="none"/>
<rect x="502.85" y="421.05" width="6.5" height="9.15" fill="#2d7f91" stroke="#1b4f63" stroke-width="0.9"/>
<rect x="503.7" y="365.1" width="4.8" height="4.8" fill="#fff" stroke="#1b4f63" stroke-width="1.0"/>
<rect x="502.5" y="419.5" width="4.4" height="4.4" fill="#fff" stroke="#1b4f63" stroke-width="1.0"/>
<rect x="505.3" y="421.6" width="4.4" height="4.4" fill="#fff" stroke="#1b4f63" stroke-width="1.0"/>
<rect x="523.75" y="423.45" width="6.7" height="6.75" fill="#fff" stroke="#1b4f63" stroke-width="0.9"/>
<ellipse cx="527.2" cy="423.4" rx="3.4" ry="2.7" fill="#1b4f63"/>
<path d="M537.7 370.7V403" stroke="#b9ccd6" stroke-width="0.9" fill="none"/>
<rect x="534.65" y="403.45" width="6.5" height="26.75" fill="#a5c5ea" stroke="#1b4f63" stroke-width="0.9"/>
<path d="M537.7 368.07L540.2 372.7L535.2 372.7Z" fill="#fff" stroke="#1b4f63" stroke-width="1.0"/>
<path d="M537.7 383.98L540.2 388.6L535.2 388.6Z" fill="#fff" stroke="#1b4f63" stroke-width="1.0"/>
<path d="M536.5 415.38L538.8 419.64L534.2 419.64Z" fill="#fff" stroke="#1b4f63" stroke-width="1.0"/>
<path d="M538.6 422.88L540.9 427.14L536.3 427.14Z" fill="#fff" stroke="#1b4f63" stroke-width="1.0"/>
<path d="M548.7 358.7V396" stroke="#b9ccd6" stroke-width="0.9" fill="none"/>
<rect x="545.65" y="395.85" width="6.5" height="34.35" fill="#2d7f91" stroke="#1b4f63" stroke-width="0.9"/>
<rect x="546.1" y="356.1" width="5.2" height="5.2" fill="#fff" stroke="#1b4f63" stroke-width="1.0"/>
<rect x="546.1" y="367.4" width="5.2" height="5.2" fill="#fff" stroke="#1b4f63" stroke-width="1.0"/>
<rect x="544.5" y="415" width="4.6" height="4.6" fill="#fff" stroke="#1b4f63" stroke-width="0.9"/>
<rect x="547.2" y="420.4" width="4.6" height="4.6" fill="#fff" stroke="#1b4f63" stroke-width="0.9"/>
<rect x="567.35" y="423.65" width="6.5" height="6.55" fill="#fff" stroke="#1b4f63" stroke-width="0.9"/>
<ellipse cx="570.6" cy="424.2" rx="3.6" ry="2.3" fill="#1b4f63"/>
<path d="M581.5 391.5V420" stroke="#b9ccd6" stroke-width="0.9" fill="none"/>
<path d="M579.9 391.5H583.1" stroke="#b9ccd6" stroke-width="0.8" fill="none"/>
<rect x="578.35" y="423.15" width="6.4" height="7.05" fill="#a5c5ea" stroke="#1b4f63" stroke-width="0.9"/>
<path d="M581.5 378.48L584 383.1L579 383.1Z" fill="#fff" stroke="#1b4f63" stroke-width="1.0"/>
<path d="M581 417.58L583.3 421.84L578.7 421.84Z" fill="#fff" stroke="#1b4f63" stroke-width="1.0"/>
<path d="M581.5 423.08L583.8 427.34L579.2 427.34Z" fill="#fff" stroke="#1b4f63" stroke-width="1.0"/>
<path d="M592 391.6V404" stroke="#6d8d9b" stroke-width="0.8" fill="none"/>
<rect x="588.75" y="407.95" width="6.6" height="22.25" fill="#2d7f91" stroke="#1b4f63" stroke-width="0.9"/>
<rect x="589.5" y="389.4" width="5" height="5" fill="#fff" stroke="#1b4f63" stroke-width="1.0"/>
<rect x="588.5" y="402.8" width="5" height="5" fill="#fff" stroke="#1b4f63" stroke-width="1.0"/>
<rect x="591" y="406.5" width="5" height="5" fill="#fff" stroke="#1b4f63" stroke-width="1.0"/>
<rect x="589.8" y="418.3" width="4.4" height="4.4" fill="#fff" stroke="#1b4f63" stroke-width="0.9"/>
<path d="M441.8 295V299M440.05 296L443.55 298M440.05 298L443.55 296" stroke="#222" stroke-width="1.0" fill="none"/>
<path d="M441.8 289.4V293.4M440.05 290.4L443.55 292.4M440.05 292.4L443.55 290.4" stroke="#222" stroke-width="1.0" fill="none"/>
<path d="M441.8 283.8V287.8M440.05 284.8L443.55 286.8M440.05 286.8L443.55 284.8" stroke="#222" stroke-width="1.0" fill="none"/>
<path d="M441.8 278.2V282.2M440.05 279.2L443.55 281.2M440.05 281.2L443.55 279.2" stroke="#222" stroke-width="1.0" fill="none"/>
<path d="M453 295V299M451.25 296L454.75 298M451.25 298L454.75 296" stroke="#222" stroke-width="1.0" fill="none"/>
<path d="M453 289.4V293.4M451.25 290.4L454.75 292.4M451.25 292.4L454.75 290.4" stroke="#222" stroke-width="1.0" fill="none"/>
<path d="M453 283.8V287.8M451.25 284.8L454.75 286.8M451.25 286.8L454.75 284.8" stroke="#222" stroke-width="1.0" fill="none"/>
<path d="M484.9 295V299M483.15 296L486.65 298M483.15 298L486.65 296" stroke="#222" stroke-width="1.0" fill="none"/>
<path d="M484.9 289.4V293.4M483.15 290.4L486.65 292.4M483.15 292.4L486.65 290.4" stroke="#222" stroke-width="1.0" fill="none"/>
<path d="M484.9 283.8V287.8M483.15 284.8L486.65 286.8M483.15 286.8L486.65 284.8" stroke="#222" stroke-width="1.0" fill="none"/>
<path d="M484.9 278.2V282.2M483.15 279.2L486.65 281.2M483.15 281.2L486.65 279.2" stroke="#222" stroke-width="1.0" fill="none"/>
<path d="M495.6 295V299M493.85 296L497.35 298M493.85 298L497.35 296" stroke="#222" stroke-width="1.0" fill="none"/>
<path d="M495.6 289.4V293.4M493.85 290.4L497.35 292.4M493.85 292.4L497.35 290.4" stroke="#222" stroke-width="1.0" fill="none"/>
<path d="M495.6 283.8V287.8M493.85 284.8L497.35 286.8M493.85 286.8L497.35 284.8" stroke="#222" stroke-width="1.0" fill="none"/>
<path d="M495.6 278.2V282.2M493.85 279.2L497.35 281.2M493.85 281.2L497.35 279.2" stroke="#222" stroke-width="1.0" fill="none"/>
<path d="M506.5 295V299M504.75 296L508.25 298M504.75 298L508.25 296" stroke="#222" stroke-width="1.0" fill="none"/>
<path d="M506.5 289.4V293.4M504.75 290.4L508.25 292.4M504.75 292.4L508.25 290.4" stroke="#222" stroke-width="1.0" fill="none"/>
<path d="M506.5 283.8V287.8M504.75 284.8L508.25 286.8M504.75 286.8L508.25 284.8" stroke="#222" stroke-width="1.0" fill="none"/>
<path d="M527.5 295V299M525.75 296L529.25 298M525.75 298L529.25 296" stroke="#222" stroke-width="1.0" fill="none"/>
<path d="M527.5 289.4V293.4M525.75 290.4L529.25 292.4M525.75 292.4L529.25 290.4" stroke="#222" stroke-width="1.0" fill="none"/>
<path d="M527.5 283.8V287.8M525.75 284.8L529.25 286.8M525.75 286.8L529.25 284.8" stroke="#222" stroke-width="1.0" fill="none"/>
<path d="M527.5 278.2V282.2M525.75 279.2L529.25 281.2M525.75 281.2L529.25 279.2" stroke="#222" stroke-width="1.0" fill="none"/>
<path d="M538.6 295V299M536.85 296L540.35 298M536.85 298L540.35 296" stroke="#222" stroke-width="1.0" fill="none"/>
<path d="M538.6 289.4V293.4M536.85 290.4L540.35 292.4M536.85 292.4L540.35 290.4" stroke="#222" stroke-width="1.0" fill="none"/>
<path d="M538.6 283.8V287.8M536.85 284.8L540.35 286.8M536.85 286.8L540.35 284.8" stroke="#222" stroke-width="1.0" fill="none"/>
<path d="M549.9 295V299M548.15 296L551.65 298M548.15 298L551.65 296" stroke="#222" stroke-width="1.0" fill="none"/>
<path d="M549.9 289.4V293.4M548.15 290.4L551.65 292.4M548.15 292.4L551.65 290.4" stroke="#222" stroke-width="1.0" fill="none"/>
<path d="M570.5 295V299M568.75 296L572.25 298M568.75 298L572.25 296" stroke="#222" stroke-width="1.0" fill="none"/>
<path d="M570.5 289.4V293.4M568.75 290.4L572.25 292.4M568.75 292.4L572.25 290.4" stroke="#222" stroke-width="1.0" fill="none"/>
<path d="M570.5 283.8V287.8M568.75 284.8L572.25 286.8M568.75 286.8L572.25 284.8" stroke="#222" stroke-width="1.0" fill="none"/>
<path d="M570.5 278.2V282.2M568.75 279.2L572.25 281.2M568.75 281.2L572.25 279.2" stroke="#222" stroke-width="1.0" fill="none"/>
<path d="M581.5 295V299M579.75 296L583.25 298M579.75 298L583.25 296" stroke="#222" stroke-width="1.0" fill="none"/>
<path d="M581.5 289.4V293.4M579.75 290.4L583.25 292.4M579.75 292.4L583.25 290.4" stroke="#222" stroke-width="1.0" fill="none"/>
<path d="M581.5 283.8V287.8M579.75 284.8L583.25 286.8M579.75 286.8L583.25 284.8" stroke="#222" stroke-width="1.0" fill="none"/>
<path d="M581.5 278.2V282.2M579.75 279.2L583.25 281.2M579.75 281.2L583.25 279.2" stroke="#222" stroke-width="1.0" fill="none"/>
<path d="M592.2 295V299M590.45 296L593.95 298M590.45 298L593.95 296" stroke="#222" stroke-width="1.0" fill="none"/>
<path d="M592.2 289.4V293.4M590.45 290.4L593.95 292.4M590.45 292.4L593.95 290.4" stroke="#222" stroke-width="1.0" fill="none"/>
<path d="M592.2 283.8V287.8M590.45 284.8L593.95 286.8M590.45 286.8L593.95 284.8" stroke="#222" stroke-width="1.0" fill="none"/>
<path d="M624.9 308.4L627.5 311L624.9 313.6L622.3 311Z" fill="#fff" stroke="#222" stroke-width="1.0"/>
<circle cx="624.9" cy="327.6" r="2.5" fill="#1b4f63"/>
<path d="M624.9 342.88L627.4 347.5L622.4 347.5Z" fill="#fff" stroke="#1b4f63" stroke-width="1.0"/>
<rect x="622.5" y="360.1" width="4.8" height="4.8" fill="#fff" stroke="#1b4f63" stroke-width="0.9"/>
<text x="633.6" y="314" font-size="8.5" fill="#333">Unvaccinated</text>
<text x="633.6" y="330.6" font-size="8.5" fill="#333">Monovalent</text>
<text x="633.6" y="348.5" font-size="8.5" fill="#333">Trivalent</text>
<text x="633.6" y="365.5" font-size="8.5" fill="#333">Quadrivalent</text>
<path d="M405.5 298.7V430.2H604.5" stroke="#2a2a2a" stroke-width="1" fill="none"/>
<path d="M401.5 430.2H405.5M401.5 403.9H405.5M401.5 377.6H405.5M401.5 351.3H405.5M401.5 325H405.5M401.5 298.7H405.5" stroke="#2a2a2a" stroke-width="1" fill="none"/>
<path d="M419.5 430.2V434.7M452.7 430.2V434.7M495.2 430.2V434.7M537.7 430.2V434.7M581.5 430.2V434.7" stroke="#333" stroke-width="0.9" fill="none"/>
<text x="400" y="433.2" font-size="8.4" fill="#333" text-anchor="end">1</text>
<text x="400" y="406.9" font-size="8.4" fill="#333" text-anchor="end">2</text>
<text x="400" y="380.6" font-size="8.4" fill="#333" text-anchor="end">3</text>
<text x="400" y="354.3" font-size="8.4" fill="#333" text-anchor="end">4</text>
<text x="400" y="328" font-size="8.4" fill="#333" text-anchor="end">5</text>
<text x="400" y="301.7" font-size="8.4" fill="#333" text-anchor="end">6</text>
<text x="419.5" y="443.4" font-size="8.4" fill="#333" text-anchor="middle">0</text>
<text x="452.7" y="443.4" font-size="8.4" fill="#333" text-anchor="middle">3</text>
<text x="495.2" y="443.4" font-size="8.4" fill="#333" text-anchor="middle">4</text>
<text x="537.7" y="443.4" font-size="8.4" fill="#333" text-anchor="middle">5</text>
<text x="581.5" y="443.4" font-size="8.4" fill="#333" text-anchor="middle">6</text>
<text x="465.7" y="453.1" font-size="8.5" font-weight="bold" fill="#111" stroke="#111" stroke-width="0.18">Dose (Log<tspan font-size="4.6" dy="2.0">10</tspan><tspan dy="-2.0"> FFU)</tspan></text>
<text transform="translate(367.8 365.7) rotate(-90) scale(1 0.9)" font-size="8.6" font-weight="bold" fill="#111" stroke="#111" stroke-width="0.18" text-anchor="middle">WT virus shedding</text>
<text transform="translate(376.9 365.2) rotate(-90) scale(1 0.9)" font-size="8.6" font-weight="bold" fill="#111" stroke="#111" stroke-width="0.18" text-anchor="middle">(GMT Log<tspan font-size="4.4" dy="2.0">10</tspan><tspan dy="-2.0"> TCID</tspan><tspan font-size="4.4" dy="2.0">50</tspan><tspan dy="-2.0">/ml)</tspan></text>
</svg>
</body></html>
